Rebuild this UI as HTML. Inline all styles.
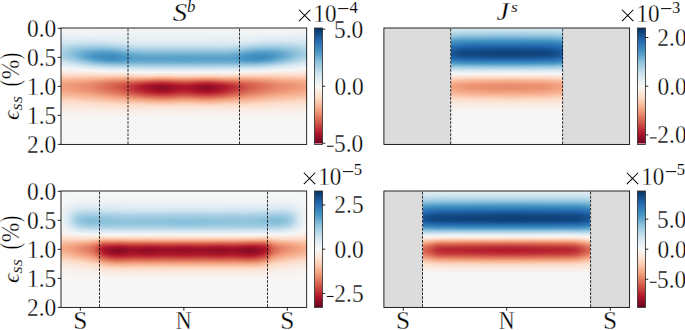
<!DOCTYPE html>
<html><head><meta charset="utf-8"><title>fig</title><style>
html,body{margin:0;padding:0;background:#fff}
body{width:685px;height:330px;position:relative;overflow:hidden}
.h,.g{position:absolute}
.h div{height:1px}
.g{background:#dcdcdc}
svg{position:absolute;left:0;top:0}
svg text{font-family:"Liberation Serif",serif;fill:#000;stroke:#fff;stroke-width:0.3px}
</style></head><body>
<div class="h" style="left:61px;top:28px;width:246px"><div style="background:linear-gradient(90deg,#f2f5f6 0.5px,#f2f5f6 245.5px)"></div><div style="background:linear-gradient(90deg,#f2f5f6 0.5px,#f2f5f6 245.5px)"></div><div style="background:linear-gradient(90deg,#f0f4f6 0.5px,#f2f5f6 218.5px,#f0f4f6 245.5px)"></div><div style="background:linear-gradient(90deg,#f0f4f6 0.5px,#f2f5f6 199.5px,#f0f4f6 245.5px)"></div><div style="background:linear-gradient(90deg,#eff3f5 0.5px,#f2f5f6 186.5px,#eff3f5 245.5px)"></div><div style="background:linear-gradient(90deg,#edf2f5 0.5px,#f0f4f6 70.5px,#f0f4f6 190.5px,#edf2f5 245.5px)"></div><div style="background:linear-gradient(90deg,#ecf2f5 0.5px,#ecf2f5 40.5px,#f0f4f6 106.5px,#eff3f5 191.5px,#eaf1f5 238.5px,#ecf2f5 245.5px)"></div><div style="background:linear-gradient(90deg,#e9f0f4 0.5px,#edf2f5 64.5px,#edf2f5 189.5px,#e9f0f4 244.5px,#eaf1f5 245.5px)"></div><div style="background:linear-gradient(90deg,#e7f0f4 0.5px,#e9f0f4 49.5px,#edf2f5 94.5px,#ecf2f5 186.5px,#e6eff4 229.5px,#e7f0f4 245.5px)"></div><div style="background:linear-gradient(90deg,#e4eef4 0.5px,#e6eff4 48.5px,#ecf2f5 84.5px,#eaf1f5 183.5px,#e3edf3 225.5px,#e4eef4 245.5px)"></div><div style="background:linear-gradient(90deg,#e3edf3 0.5px,#e1edf3 36.5px,#eaf1f5 85.5px,#e9f0f4 178.5px,#e0ecf3 217.5px,#e3edf3 245.5px)"></div><div style="background:linear-gradient(90deg,#e0ecf3 0.5px,#dbeaf2 26.5px,#e7f0f4 82.5px,#e6eff4 178.5px,#ddebf2 210.5px,#ddebf2 237.5px,#e0ecf3 245.5px)"></div><div style="background:linear-gradient(90deg,#dbeaf2 0.5px,#d8e9f1 39.5px,#e4eef4 78.5px,#e3edf3 177.5px,#d8e9f1 211.5px,#dbeaf2 244.5px,#ddebf2 245.5px)"></div><div style="background:linear-gradient(90deg,#d8e9f1 0.5px,#d2e6f0 32.5px,#deebf2 68.5px,#e1edf3 110.5px,#e0ecf3 175.5px,#d4e6f1 207.5px,#d4e6f1 232.5px,#d8e9f1 245.5px)"></div><div style="background:linear-gradient(90deg,#d5e7f1 0.5px,#cce2ef 23.5px,#cce2ef 40.5px,#dbeaf2 70.5px,#ddebf2 122.5px,#ddebf2 171.5px,#cce2ef 209.5px,#cce2ef 227.5px,#d5e7f1 245.5px)"></div><div style="background:linear-gradient(90deg,#d1e5f0 0.5px,#c5dfec 18.5px,#c2ddec 36.5px,#cae1ee 52.5px,#d2e6f0 61.5px,#dae9f2 86.5px,#d8e9f1 171.5px,#cce2ef 191.5px,#c5dfec 202.5px,#c2ddec 214.5px,#c2ddec 223.5px,#d2e6f0 245.5px)"></div><div style="background:linear-gradient(90deg,#cce2ef 0.5px,#bbdaea 19.5px,#b8d8e9 37.5px,#bddbea 50.5px,#d1e5f0 69.5px,#d4e6f1 105.5px,#d4e6f1 169.5px,#cce2ef 181.5px,#bddbea 196.5px,#b8d8e9 208.5px,#b8d8e9 221.5px,#c2ddec 235.5px,#cce2ef 245.5px)"></div><div style="background:linear-gradient(90deg,#c5dfec 0.5px,#b3d6e8 17.5px,#acd2e5 33.5px,#aed3e6 45.5px,#c2ddec 64.5px,#cce2ef 74.5px,#cfe4ef 104.5px,#cfe4ef 165.5px,#c5dfec 179.5px,#b6d7e8 191.5px,#aed3e6 202.5px,#aed3e6 221.5px,#bddbea 237.5px,#c7e0ed 245.5px)"></div><div style="background:linear-gradient(90deg,#c0dceb 0.5px,#acd2e5 15.5px,#a2cde3 31.5px,#a2cde3 44.5px,#aed3e6 57.5px,#bbdaea 66.5px,#c2ddec 76.5px,#c5dfec 88.5px,#c5dfec 166.5px,#b6d7e8 182.5px,#a7d0e4 194.5px,#a2cde3 206.5px,#a2cde3 217.5px,#b3d6e8 235.5px,#c0dceb 244.5px,#c0dceb 245.5px)"></div><div style="background:linear-gradient(90deg,#bbdaea 0.5px,#a0cce2 18.5px,#96c7df 32.5px,#98c8e0 48.5px,#b8d8e9 73.5px,#bbdaea 103.5px,#bbdaea 166.5px,#b1d5e7 178.5px,#a5cee3 186.5px,#98c8e0 197.5px,#98c8e0 217.5px,#a2cde3 228.5px,#bbdaea 245.5px)"></div><div style="background:linear-gradient(90deg,#b6d7e8 0.5px,#96c7df 19.5px,#8ac0db 31.5px,#87beda 43.5px,#8dc2dc 50.5px,#a9d1e5 69.5px,#b1d5e7 85.5px,#b1d5e7 116.5px,#aed3e6 122.5px,#aed3e6 128.5px,#b1d5e7 134.5px,#b1d5e7 164.5px,#a7d0e4 177.5px,#8ac0db 197.5px,#87beda 211.5px,#9dcbe1 230.5px,#b6d7e8 245.5px)"></div><div style="background:linear-gradient(90deg,#b1d5e7 0.5px,#87beda 22.5px,#7bb6d6 34.5px,#78b4d5 42.5px,#81bad8 52.5px,#9dcbe1 68.5px,#a5cee3 78.5px,#a5cee3 169.5px,#93c6de 182.5px,#7eb8d7 194.5px,#78b4d5 207.5px,#81bad8 217.5px,#8dc2dc 225.5px,#b1d5e7 245.5px)"></div><div style="background:linear-gradient(90deg,#acd2e5 0.5px,#9bc9e0 9.5px,#81bad8 20.5px,#75b2d4 28.5px,#6bacd1 36.5px,#6bacd1 47.5px,#7bb6d6 57.5px,#93c6de 69.5px,#9bc9e0 80.5px,#9bc9e0 167.5px,#90c4dd 177.5px,#7bb6d6 187.5px,#6eaed2 195.5px,#6bacd1 209.5px,#78b4d5 218.5px,#8dc2dc 229.5px,#aed3e6 245.5px)"></div><div style="background:linear-gradient(90deg,#a9d1e5 0.5px,#96c7df 9.5px,#7bb6d6 19.5px,#71b0d3 24.5px,#62a7ce 34.5px,#5fa5cd 46.5px,#65a9cf 53.5px,#8ac0db 71.5px,#90c4dd 83.5px,#90c4dd 166.5px,#84bcd9 176.5px,#71b0d3 185.5px,#62a7ce 194.5px,#5fa5cd 206.5px,#65a9cf 213.5px,#71b0d3 220.5px,#93c6de 234.5px,#a7d0e4 243.5px,#acd2e5 245.5px)"></div><div style="background:linear-gradient(90deg,#a7d0e4 0.5px,#93c6de 9.5px,#75b2d4 19.5px,#5fa5cd 29.5px,#569fc9 37.5px,#529dc8 39.5px,#529dc8 48.5px,#569fc9 50.5px,#62a7ce 58.5px,#7eb8d7 71.5px,#84bcd9 81.5px,#84bcd9 167.5px,#78b4d5 176.5px,#5ca3cb 189.5px,#569fc9 195.5px,#529dc8 197.5px,#529dc8 206.5px,#569fc9 208.5px,#62a7ce 216.5px,#71b0d3 223.5px,#a0cce2 240.5px,#a9d1e5 245.5px)"></div><div style="background:linear-gradient(90deg,#a7d0e4 0.5px,#84bcd9 13.5px,#65a9cf 23.5px,#529dc8 32.5px,#4997c5 40.5px,#4997c5 50.5px,#5ca3cb 60.5px,#75b2d4 73.5px,#7bb6d6 88.5px,#7bb6d6 103.5px,#78b4d5 109.5px,#78b4d5 140.5px,#7bb6d6 146.5px,#7bb6d6 162.5px,#78b4d5 168.5px,#75b2d4 172.5px,#4f9bc7 190.5px,#4997c5 196.5px,#4997c5 206.5px,#529dc8 212.5px,#71b0d3 225.5px,#7eb8d7 229.5px,#7eb8d7 230.5px,#93c6de 236.5px,#a7d0e4 245.5px)"></div><div style="background:linear-gradient(90deg,#a7d0e4 0.5px,#8dc2dc 10.5px,#78b4d5 16.5px,#5ca3cb 25.5px,#4695c4 36.5px,#4291c2 49.5px,#4997c5 56.5px,#59a1ca 63.5px,#6bacd1 74.5px,#6eaed2 86.5px,#6eaed2 168.5px,#5fa5cd 178.5px,#4997c5 188.5px,#4291c2 196.5px,#4393c3 206.5px,#4f9bc7 213.5px,#71b0d3 226.5px,#8dc2dc 235.5px,#9bc9e0 239.5px,#a7d0e4 245.5px)"></div><div style="background:linear-gradient(90deg,#a7d0e4 0.5px,#9bc9e0 6.5px,#6bacd1 20.5px,#4f9bc7 29.5px,#4291c2 37.5px,#408fc1 53.5px,#4695c4 58.5px,#569fc9 65.5px,#65a9cf 75.5px,#68abd0 105.5px,#65a9cf 111.5px,#65a9cf 139.5px,#68abd0 145.5px,#68abd0 164.5px,#62a7ce 172.5px,#569fc9 179.5px,#4997c5 184.5px,#408fc1 191.5px,#4291c2 207.5px,#4997c5 212.5px,#6bacd1 224.5px,#87beda 233.5px,#96c7df 237.5px,#a5cee3 243.5px,#a9d1e5 245.5px)"></div><div style="background:linear-gradient(90deg,#acd2e5 0.5px,#93c6de 9.5px,#62a7ce 23.5px,#4997c5 31.5px,#408fc1 38.5px,#3e8cbf 52.5px,#4695c4 61.5px,#5ca3cb 71.5px,#62a7ce 86.5px,#62a7ce 103.5px,#5fa5cd 109.5px,#5fa5cd 140.5px,#62a7ce 146.5px,#62a7ce 164.5px,#59a1ca 175.5px,#4c99c6 180.5px,#3f8ec0 190.5px,#3f8ec0 204.5px,#4695c4 211.5px,#5ca3cb 219.5px,#78b4d5 228.5px,#96c7df 236.5px,#a9d1e5 243.5px,#acd2e5 245.5px)"></div><div style="background:linear-gradient(90deg,#aed3e6 0.5px,#a2cde3 6.5px,#87beda 14.5px,#75b2d4 19.5px,#6bacd1 21.5px,#4695c4 33.5px,#3e8cbf 44.5px,#3e8cbf 53.5px,#4695c4 62.5px,#59a1ca 73.5px,#5ca3cb 85.5px,#5ca3cb 115.5px,#59a1ca 121.5px,#59a1ca 129.5px,#5ca3cb 135.5px,#5ca3cb 169.5px,#4c99c6 179.5px,#4291c2 185.5px,#3c8abe 198.5px,#4393c3 209.5px,#59a1ca 217.5px,#6eaed2 224.5px,#78b4d5 226.5px,#a7d0e4 240.5px,#b1d5e7 245.5px)"></div><div style="background:linear-gradient(90deg,#b6d7e8 0.5px,#96c7df 12.5px,#78b4d5 20.5px,#5ca3cb 28.5px,#4997c5 34.5px,#408fc1 41.5px,#3e8cbf 52.5px,#4695c4 62.5px,#569fc9 71.5px,#5ca3cb 84.5px,#5ca3cb 101.5px,#59a1ca 107.5px,#59a1ca 142.5px,#5ca3cb 148.5px,#5ca3cb 165.5px,#569fc9 174.5px,#4997c5 180.5px,#408fc1 187.5px,#3e8cbf 198.5px,#4695c4 208.5px,#5ca3cb 216.5px,#71b0d3 222.5px,#a7d0e4 238.5px,#b6d7e8 245.5px)"></div><div style="background:linear-gradient(90deg,#bddbea 0.5px,#9bc9e0 13.5px,#71b0d3 25.5px,#5ca3cb 31.5px,#4997c5 38.5px,#408fc1 48.5px,#4695c4 61.5px,#529dc8 67.5px,#59a1ca 74.5px,#5ca3cb 86.5px,#5ca3cb 105.5px,#59a1ca 111.5px,#59a1ca 138.5px,#5ca3cb 144.5px,#5ca3cb 168.5px,#569fc9 175.5px,#4393c3 186.5px,#408fc1 197.5px,#4695c4 204.5px,#59a1ca 212.5px,#6eaed2 219.5px,#78b4d5 221.5px,#a0cce2 233.5px,#bddbea 244.5px,#bddbea 245.5px)"></div><div style="background:linear-gradient(90deg,#c5dfec 0.5px,#b3d6e8 8.5px,#96c7df 18.5px,#81bad8 24.5px,#5fa5cd 34.5px,#4c99c6 44.5px,#4695c4 52.5px,#4c99c6 59.5px,#5ca3cb 70.5px,#5fa5cd 82.5px,#5fa5cd 111.5px,#5ca3cb 117.5px,#5ca3cb 132.5px,#5fa5cd 138.5px,#5fa5cd 172.5px,#4f9bc7 183.5px,#4997c5 189.5px,#4695c4 195.5px,#4f9bc7 202.5px,#68abd0 213.5px,#9bc9e0 228.5px,#bddbea 240.5px,#c5dfec 245.5px)"></div><div style="background:linear-gradient(90deg,#cce2ef 0.5px,#bddbea 8.5px,#90c4dd 24.5px,#7bb6d6 30.5px,#6eaed2 34.5px,#59a1ca 45.5px,#569fc9 57.5px,#65a9cf 71.5px,#68abd0 83.5px,#68abd0 100.5px,#65a9cf 106.5px,#65a9cf 143.5px,#68abd0 149.5px,#68abd0 171.5px,#569fc9 189.5px,#569fc9 196.5px,#62a7ce 204.5px,#75b2d4 212.5px,#8ac0db 219.5px,#98c8e0 223.5px,#cce2ef 243.5px,#cfe4ef 245.5px)"></div><div style="background:linear-gradient(90deg,#d4e6f1 0.5px,#cae1ee 7.5px,#87beda 32.5px,#71b0d3 41.5px,#65a9cf 52.5px,#6bacd1 64.5px,#71b0d3 70.5px,#71b0d3 73.5px,#75b2d4 75.5px,#75b2d4 78.5px,#71b0d3 80.5px,#71b0d3 112.5px,#6eaed2 118.5px,#6eaed2 131.5px,#71b0d3 137.5px,#71b0d3 165.5px,#75b2d4 167.5px,#75b2d4 170.5px,#71b0d3 172.5px,#6eaed2 179.5px,#68abd0 185.5px,#65a9cf 194.5px,#78b4d5 206.5px,#a2cde3 222.5px,#d2e6f0 242.5px,#d4e6f1 245.5px)"></div><div style="background:linear-gradient(90deg,#dae9f2 0.5px,#cce2ef 10.5px,#87beda 40.5px,#7bb6d6 50.5px,#78b4d5 56.5px,#81bad8 72.5px,#81bad8 102.5px,#7eb8d7 108.5px,#7eb8d7 142.5px,#81bad8 148.5px,#81bad8 176.5px,#7bb6d6 186.5px,#78b4d5 192.5px,#87beda 204.5px,#d4e6f1 238.5px,#dae9f2 245.5px)"></div><div style="background:linear-gradient(90deg,#e0ecf3 0.5px,#cce2ef 16.5px,#a2cde3 35.5px,#90c4dd 50.5px,#8dc2dc 60.5px,#90c4dd 66.5px,#93c6de 76.5px,#90c4dd 82.5px,#90c4dd 108.5px,#8dc2dc 114.5px,#8dc2dc 136.5px,#90c4dd 142.5px,#90c4dd 167.5px,#93c6de 173.5px,#8dc2dc 191.5px,#93c6de 198.5px,#a7d0e4 211.5px,#d4e6f1 233.5px,#e0ecf3 245.5px)"></div><div style="background:linear-gradient(90deg,#e4eef4 0.5px,#dae9f2 12.5px,#cce2ef 22.5px,#acd2e5 40.5px,#a2cde3 52.5px,#a0cce2 104.5px,#9dcbe1 110.5px,#9dcbe1 140.5px,#a0cce2 146.5px,#a2cde3 195.5px,#b3d6e8 209.5px,#d2e6f0 225.5px,#e4eef4 243.5px,#e6eff4 245.5px)"></div><div style="background:linear-gradient(90deg,#eaf1f5 0.5px,#dae9f2 19.5px,#cae1ee 32.5px,#b6d7e8 48.5px,#b1d5e7 76.5px,#aed3e6 82.5px,#aed3e6 167.5px,#b1d5e7 173.5px,#b3d6e8 192.5px,#bddbea 203.5px,#d5e7f1 220.5px,#eaf1f5 244.5px,#eaf1f5 245.5px)"></div><div style="background:linear-gradient(90deg,#f0f4f6 0.5px,#ddebf2 25.5px,#c7e0ed 53.5px,#c5dfec 66.5px,#c2ddec 72.5px,#bddbea 92.5px,#bddbea 162.5px,#c0dceb 168.5px,#c7e0ed 194.5px,#edf2f5 239.5px,#f0f4f6 245.5px)"></div><div style="background:linear-gradient(90deg,#f5f6f7 0.5px,#e9f0f4 21.5px,#dae9f2 43.5px,#cfe4ef 87.5px,#cfe4ef 113.5px,#cce2ef 119.5px,#cce2ef 130.5px,#cfe4ef 136.5px,#d1e5f0 172.5px,#dbeaf2 205.5px,#f5f6f7 243.5px,#f6f7f7 245.5px)"></div><div style="background:linear-gradient(90deg,#f8f4f2 0.5px,#f3f5f6 16.5px,#e3edf3 49.5px,#dae9f2 85.5px,#dae9f2 169.5px,#eaf1f5 214.5px,#f7f6f6 236.5px,#f8f4f2 245.5px)"></div><div style="background:linear-gradient(90deg,#f9f0eb 0.5px,#f5f6f7 29.5px,#ecf2f5 58.5px,#e3edf3 84.5px,#e4eef4 170.5px,#edf2f5 194.5px,#f7f6f6 223.5px,#f8f1ed 241.5px,#f9f0eb 245.5px)"></div><div style="background:linear-gradient(90deg,#f9ede5 0.5px,#f9f0eb 21.5px,#f7f6f6 52.5px,#edf2f5 85.5px,#eff3f5 171.5px,#f7f6f6 191.5px,#f8f1ed 222.5px,#f9ede5 243.5px,#f9ede5 245.5px)"></div><div style="background:linear-gradient(90deg,#fae8de 0.5px,#f9ebe3 27.5px,#f9efe9 55.5px,#f7f6f6 81.5px,#f7f5f4 171.5px,#f9efe9 191.5px,#f9ebe3 222.5px,#fae8de 245.5px)"></div><div style="background:linear-gradient(90deg,#fbe4d6 0.5px,#fae7dc 54.5px,#f9ebe3 69.5px,#f9efe9 81.5px,#f9ede5 104.5px,#f9efe9 130.5px,#f9ede5 149.5px,#f9efe9 168.5px,#fae8de 185.5px,#fbe4d6 245.5px)"></div><div style="background:linear-gradient(90deg,#fcdfcf 0.5px,#fce0d0 61.5px,#fae7dc 80.5px,#fbe4d6 102.5px,#fae7dc 126.5px,#fbe4d6 148.5px,#fae7dc 166.5px,#fcdfcf 187.5px,#fcdfcf 245.5px)"></div><div style="background:linear-gradient(90deg,#fddbc7 0.5px,#fddbc7 30.5px,#fdd9c4 36.5px,#fcd7c2 52.5px,#fcd5bf 56.5px,#fcdecd 77.5px,#fddbc7 105.5px,#fcdecd 126.5px,#fddbc7 150.5px,#fcdecd 170.5px,#fcd7c2 185.5px,#fcd5bf 191.5px,#fcd7c2 197.5px,#fdd9c4 213.5px,#fddbc7 219.5px,#fddbc7 245.5px)"></div><div style="background:linear-gradient(90deg,#fcd3bc 0.5px,#fcd3bc 11.5px,#fbd0b9 16.5px,#fbceb7 35.5px,#fac8af 51.5px,#facab1 65.5px,#fbd0b9 74.5px,#fbceb7 86.5px,#fac8af 99.5px,#facab1 109.5px,#fbd0b9 122.5px,#fbccb4 135.5px,#fac8af 145.5px,#fbccb4 157.5px,#fbd0b9 167.5px,#fbccb4 177.5px,#fac8af 185.5px,#facab1 202.5px,#fbceb7 214.5px,#fbd0b9 233.5px,#fcd3bc 239.5px,#fcd3bc 245.5px)"></div><div style="background:linear-gradient(90deg,#facab1 0.5px,#fac8af 18.5px,#f9c6ac 24.5px,#f8bfa4 42.5px,#f8bb9e 50.5px,#f8bb9e 66.5px,#f8bfa4 74.5px,#f8bda1 84.5px,#f7b596 99.5px,#f7b596 105.5px,#f8bb9e 116.5px,#f8bda1 127.5px,#f7b596 145.5px,#f7b799 153.5px,#f8bfa4 168.5px,#f8bda1 176.5px,#f7b99c 186.5px,#f8bb9e 197.5px,#f8bfa4 205.5px,#f9c6ac 221.5px,#facab1 244.5px,#fbccb4 245.5px)"></div><div style="background:linear-gradient(90deg,#f9c4a9 0.5px,#f8bda1 22.5px,#f8bb9e 27.5px,#f5ac8b 55.5px,#f5ac8b 69.5px,#f6af8e 75.5px,#f5a886 87.5px,#f19e7d 101.5px,#f5a886 117.5px,#f5aa89 123.5px,#f5a886 130.5px,#f19e7d 146.5px,#f5a886 160.5px,#f6af8e 171.5px,#f5aa89 187.5px,#f8bb9e 218.5px,#f8bfa4 235.5px,#f9c2a7 241.5px,#f9c4a9 245.5px)"></div><div style="background:linear-gradient(90deg,#f8bb9e 0.5px,#f6b191 30.5px,#f2a17f 50.5px,#f09c7b 64.5px,#f09c7b 74.5px,#e6866a 97.5px,#e6866a 106.5px,#ec9374 121.5px,#eb9172 129.5px,#e8896c 138.5px,#e6866a 150.5px,#ef9979 168.5px,#f09c7b 186.5px,#f2a17f 195.5px,#f6b191 217.5px,#f8bb9e 244.5px,#f8bb9e 245.5px)"></div><div style="background:linear-gradient(90deg,#f7b596 0.5px,#f6b191 11.5px,#f5aa89 24.5px,#f3a481 34.5px,#eb9172 52.5px,#e8896c 65.5px,#e58368 77.5px,#df765e 87.5px,#db6b55 98.5px,#db6b55 104.5px,#e27b62 121.5px,#e17860 129.5px,#dc6e57 139.5px,#db6b55 149.5px,#e48066 166.5px,#e6866a 174.5px,#ea8e70 190.5px,#f5a886 216.5px,#f7b596 245.5px)"></div><div style="background:linear-gradient(90deg,#f6af8e 0.5px,#f2a17f 26.5px,#e37e64 57.5px,#dd7059 74.5px,#d05548 93.5px,#ce4f45 101.5px,#d05548 108.5px,#d7634f 120.5px,#d7634f 127.5px,#d35a4a 133.5px,#ce4f45 145.5px,#d05548 152.5px,#dc6e57 169.5px,#e17860 181.5px,#e6866a 195.5px,#f19e7d 215.5px,#f5a886 233.5px,#f6af8e 245.5px)"></div><div style="background:linear-gradient(90deg,#f5a886 0.5px,#f2a17f 15.5px,#ec9374 31.5px,#db6b55 63.5px,#cf5246 80.5px,#c2383a 97.5px,#c2383a 105.5px,#c6413e 111.5px,#cb4942 117.5px,#cc4c44 126.5px,#c2383a 142.5px,#c2383a 149.5px,#cf5246 164.5px,#d86551 177.5px,#ef9979 219.5px,#f5a886 243.5px,#f5aa89 245.5px)"></div><div style="background:linear-gradient(90deg,#f4a683 0.5px,#ee9677 21.5px,#e6866a 36.5px,#dc6e57 52.5px,#d55d4c 64.5px,#ce4f45 72.5px,#c13639 84.5px,#b82531 95.5px,#b72230 104.5px,#bd2d35 112.5px,#c2383a 120.5px,#c13639 128.5px,#b72230 142.5px,#b72230 149.5px,#c53e3d 164.5px,#d25849 177.5px,#e17860 199.5px,#ea8e70 215.5px,#f19e7d 235.5px,#f4a683 245.5px)"></div><div style="background:linear-gradient(90deg,#f2a17f 0.5px,#ee9677 16.5px,#e6866a 32.5px,#d6604d 57.5px,#cc4c44 67.5px,#b82531 84.5px,#ae172a 94.5px,#a81529 100.5px,#ae172a 107.5px,#b41c2d 113.5px,#ba2832 119.5px,#ba2832 125.5px,#b1182b 136.5px,#a81529 145.5px,#ae172a 152.5px,#b41c2d 156.5px,#bf3338 166.5px,#d55d4c 185.5px,#dd7059 198.5px,#e8896c 215.5px,#ec9374 227.5px,#f19e7d 240.5px,#f2a17f 245.5px)"></div><div style="background:linear-gradient(90deg,#f2a17f 0.5px,#e58368 32.5px,#de735c 42.5px,#d6604d 54.5px,#cc4c44 64.5px,#b41c2d 82.5px,#ae172a 87.5px,#9f1228 94.5px,#991027 102.5px,#a81529 112.5px,#b3192c 118.5px,#b41c2d 124.5px,#b1182b 128.5px,#9f1228 139.5px,#991027 147.5px,#a51429 154.5px,#b3192c 161.5px,#cc4c44 180.5px,#d55d4c 188.5px,#db6b55 197.5px,#e6866a 215.5px,#f09c7b 239.5px,#f2a17f 245.5px)"></div><div style="background:linear-gradient(90deg,#f19e7d 0.5px,#ef9979 10.5px,#e8896c 26.5px,#e27b62 36.5px,#da6853 48.5px,#cf5246 60.5px,#be3036 73.5px,#b72230 77.5px,#b3192c 81.5px,#9c1127 91.5px,#900d26 99.5px,#930e26 105.5px,#ae172a 121.5px,#ab162a 127.5px,#960f27 139.5px,#900d26 145.5px,#960f27 151.5px,#b3192c 164.5px,#d05548 185.5px,#d86551 194.5px,#e27b62 208.5px,#e8896c 218.5px,#f19e7d 243.5px,#f2a17f 245.5px)"></div><div style="background:linear-gradient(90deg,#f2a17f 0.5px,#ec9374 16.5px,#e58368 32.5px,#d6604d 53.5px,#cf5246 60.5px,#c53e3d 68.5px,#be3036 72.5px,#b72230 77.5px,#b3192c 79.5px,#a81529 84.5px,#930e26 94.5px,#8d0c25 100.5px,#930e26 107.5px,#ab162a 120.5px,#a81529 127.5px,#900d26 140.5px,#8d0c25 147.5px,#991027 154.5px,#b3192c 165.5px,#d25849 186.5px,#df765e 204.5px,#e6866a 215.5px,#f2a17f 245.5px)"></div><div style="background:linear-gradient(90deg,#f2a17f 0.5px,#ef9979 13.5px,#e6866a 31.5px,#de735c 43.5px,#d35a4a 57.5px,#ce4f45 62.5px,#bf3338 72.5px,#b82531 76.5px,#b1182b 81.5px,#960f27 93.5px,#900d26 99.5px,#930e26 106.5px,#ab162a 119.5px,#ab162a 126.5px,#930e26 139.5px,#900d26 149.5px,#ae172a 162.5px,#b72230 167.5px,#d05548 184.5px,#dd7059 199.5px,#e98b6e 218.5px,#f2a17f 243.5px,#f3a481 245.5px)"></div><div style="background:linear-gradient(90deg,#f3a481 0.5px,#ef9979 16.5px,#e58368 35.5px,#de735c 45.5px,#d25849 60.5px,#be3036 74.5px,#b72230 78.5px,#b3192c 82.5px,#991027 94.5px,#930e26 100.5px,#991027 107.5px,#ae172a 119.5px,#b1182b 124.5px,#960f27 141.5px,#930e26 147.5px,#9f1228 154.5px,#b3192c 163.5px,#be3036 171.5px,#c53e3d 175.5px,#d35a4a 185.5px,#dd7059 197.5px,#ea8e70 218.5px,#f3a481 243.5px,#f4a683 245.5px)"></div><div style="background:linear-gradient(90deg,#f5a886 0.5px,#f2a17f 11.5px,#ea8e70 30.5px,#d7634f 57.5px,#be3036 76.5px,#ba2832 78.5px,#b3192c 85.5px,#9c1127 97.5px,#9c1127 104.5px,#b3192c 118.5px,#b41c2d 125.5px,#ab162a 132.5px,#9f1228 140.5px,#9c1127 149.5px,#b41c2d 161.5px,#bf3338 170.5px,#d55d4c 184.5px,#e6866a 208.5px,#ef9979 225.5px,#f5a886 245.5px)"></div><div style="background:linear-gradient(90deg,#f5aa89 0.5px,#f5a886 6.5px,#ee9677 28.5px,#e6866a 39.5px,#db6b55 56.5px,#ce4f45 68.5px,#be3036 78.5px,#b1182b 90.5px,#a81529 96.5px,#a51429 103.5px,#b41c2d 114.5px,#b82531 120.5px,#b72230 128.5px,#b3192c 133.5px,#a51429 144.5px,#a81529 150.5px,#b41c2d 157.5px,#bf3338 167.5px,#cb4942 175.5px,#d05548 178.5px,#de735c 192.5px,#e6866a 205.5px,#ef9979 220.5px,#f5a886 240.5px,#f5aa89 245.5px)"></div><div style="background:linear-gradient(90deg,#f6af8e 0.5px,#f2a17f 22.5px,#ee9677 32.5px,#dd7059 57.5px,#d25849 68.5px,#c13639 80.5px,#b3192c 96.5px,#b3192c 105.5px,#bd2d35 118.5px,#be3036 125.5px,#b41c2d 139.5px,#b3192c 149.5px,#be3036 161.5px,#cf5246 174.5px,#de735c 188.5px,#ec9374 210.5px,#f19e7d 220.5px,#f5a886 234.5px,#f6af8e 245.5px)"></div><div style="background:linear-gradient(90deg,#f6b394 0.5px,#f6b191 6.5px,#f2a17f 29.5px,#ee9677 37.5px,#de735c 60.5px,#d05548 73.5px,#cb4942 78.5px,#c2383a 86.5px,#ba2832 97.5px,#b82531 102.5px,#c53e3d 122.5px,#bf3338 133.5px,#ba2832 141.5px,#b82531 147.5px,#bd2d35 153.5px,#c6413e 163.5px,#da6853 179.5px,#e27b62 188.5px,#f2a17f 216.5px,#f6af8e 237.5px,#f6b394 245.5px)"></div><div style="background:linear-gradient(90deg,#f7b799 0.5px,#f6b394 11.5px,#f5aa89 24.5px,#f2a17f 35.5px,#e58368 56.5px,#de735c 65.5px,#d05548 78.5px,#c2383a 95.5px,#c2383a 106.5px,#cb4942 119.5px,#cc4c44 124.5px,#c13639 142.5px,#c2383a 151.5px,#cb4942 160.5px,#da6853 174.5px,#e98b6e 193.5px,#f4a683 214.5px,#f7b596 238.5px,#f7b799 245.5px)"></div><div style="background:linear-gradient(90deg,#f8bda1 0.5px,#f6b191 24.5px,#f2a17f 42.5px,#e58368 62.5px,#de735c 71.5px,#d6604d 80.5px,#cb4942 95.5px,#cb4942 107.5px,#d25849 117.5px,#d25849 128.5px,#cb4942 140.5px,#cb4942 151.5px,#da6853 168.5px,#ea8e70 188.5px,#f4a683 207.5px,#f6af8e 218.5px,#f7b596 229.5px,#f8bb9e 242.5px,#f8bda1 245.5px)"></div><div style="background:linear-gradient(90deg,#f9c2a7 0.5px,#f8bda1 12.5px,#f6b191 33.5px,#f5aa89 39.5px,#f2a17f 49.5px,#e58368 69.5px,#de735c 78.5px,#d7634f 89.5px,#d25849 99.5px,#d55d4c 109.5px,#d86551 115.5px,#db6b55 121.5px,#da6853 128.5px,#d35a4a 141.5px,#d35a4a 150.5px,#dd7059 165.5px,#e58368 175.5px,#f19e7d 193.5px,#f5a886 203.5px,#f7b596 218.5px,#f8bb9e 231.5px,#f9c2a7 244.5px,#f9c2a7 245.5px)"></div><div style="background:linear-gradient(90deg,#fac8af 0.5px,#f7b799 33.5px,#f5a886 51.5px,#eb9172 69.5px,#df765e 87.5px,#db6b55 98.5px,#db6b55 104.5px,#e27b62 121.5px,#e17860 129.5px,#dc6e57 139.5px,#db6b55 149.5px,#e48066 165.5px,#f19e7d 185.5px,#f6b191 204.5px,#f7b99c 215.5px,#f9c4a9 236.5px,#fac8af 245.5px)"></div><div style="background:linear-gradient(90deg,#fbccb4 0.5px,#f9c6ac 19.5px,#f8bfa4 31.5px,#f6b394 47.5px,#f2a17f 67.5px,#ea8e70 81.5px,#e37e64 96.5px,#e27b62 102.5px,#e98b6e 121.5px,#e8896c 129.5px,#e37e64 140.5px,#e27b62 147.5px,#ee9677 170.5px,#f19e7d 176.5px,#f5a886 186.5px,#f7b596 199.5px,#f9c2a7 218.5px,#fbccb4 245.5px)"></div><div style="background:linear-gradient(90deg,#fcd3bc 0.5px,#f9c6ac 32.5px,#f7b799 52.5px,#f5aa89 68.5px,#f2a17f 79.5px,#eb9172 94.5px,#ea8e70 104.5px,#f09c7b 122.5px,#ef9979 129.5px,#ea8e70 144.5px,#eb9172 152.5px,#f5a886 172.5px,#f6b394 188.5px,#f8bb9e 198.5px,#fac8af 218.5px,#fbd0b9 241.5px,#fcd3bc 245.5px)"></div><div style="background:linear-gradient(90deg,#fcd7c2 0.5px,#fcd7c2 6.5px,#fcd5bf 11.5px,#fbccb4 32.5px,#f9c2a7 48.5px,#f7b596 68.5px,#f6af8e 78.5px,#f4a683 89.5px,#f19e7d 102.5px,#f5aa89 122.5px,#f5a886 129.5px,#f19e7d 147.5px,#f4a683 157.5px,#f6b394 174.5px,#f8bfa4 194.5px,#facab1 210.5px,#fbd0b9 223.5px,#fcd7c2 243.5px,#fcd7c2 245.5px)"></div><div style="background:linear-gradient(90deg,#fddcc9 0.5px,#fddbc7 10.5px,#fcd7c2 20.5px,#fbceb7 40.5px,#f9c2a7 60.5px,#f7b99c 79.5px,#f7b596 85.5px,#f5ac8b 101.5px,#f6b191 111.5px,#f7b596 121.5px,#f6b394 133.5px,#f6af8e 141.5px,#f5ac8b 146.5px,#f8bb9e 170.5px,#f9c4a9 189.5px,#fac8af 195.5px,#fcd3bc 214.5px,#fcd7c2 226.5px,#fddcc9 245.5px)"></div><div style="background:linear-gradient(90deg,#fcdecd 0.5px,#fddbc7 28.5px,#facab1 61.5px,#fac8af 71.5px,#f8bfa4 87.5px,#f8bb9e 95.5px,#f8bb9e 109.5px,#f8bfa4 117.5px,#f9c2a7 125.5px,#f8bb9e 139.5px,#f8bb9e 153.5px,#f9c4a9 166.5px,#fac8af 181.5px,#fdd9c4 214.5px,#fcdecd 245.5px)"></div><div style="background:linear-gradient(90deg,#fce2d2 0.5px,#fddcc9 37.5px,#fbd0b9 65.5px,#fbceb7 79.5px,#facab1 87.5px,#f9c6ac 99.5px,#f9c6ac 108.5px,#fbccb4 124.5px,#f9c6ac 144.5px,#f9c6ac 152.5px,#fbceb7 168.5px,#fbd0b9 184.5px,#fcd5bf 192.5px,#fddcc9 210.5px,#fce0d0 242.5px,#fce2d2 245.5px)"></div><div style="background:linear-gradient(90deg,#fbe4d6 0.5px,#fdddcb 46.5px,#fdd9c4 63.5px,#fcd7c2 81.5px,#fcd3bc 91.5px,#fbd0b9 102.5px,#fbd0b9 108.5px,#fcd3bc 114.5px,#fcd5bf 126.5px,#fcd3bc 136.5px,#fbd0b9 141.5px,#fbd0b9 152.5px,#fcd7c2 166.5px,#fdd9c4 187.5px,#fdddcb 201.5px,#fbe4d6 245.5px)"></div><div style="background:linear-gradient(90deg,#fbe6da 0.5px,#fcdecd 57.5px,#fdddcb 82.5px,#fdd9c4 103.5px,#fddcc9 125.5px,#fddbc7 139.5px,#fdd9c4 145.5px,#fdddcb 171.5px,#fcdecd 192.5px,#fbe5d8 237.5px,#fbe6da 245.5px)"></div><div style="background:linear-gradient(90deg,#fae8de 0.5px,#fbe3d4 50.5px,#fce0d0 66.5px,#fce0d0 87.5px,#fcdecd 105.5px,#fcdfcf 139.5px,#fcdfcf 157.5px,#fce2d2 176.5px,#fce2d2 193.5px,#fbe6da 226.5px,#fae8de 245.5px)"></div><div style="background:linear-gradient(90deg,#fae9df 0.5px,#fae7dc 37.5px,#fbe4d6 67.5px,#fbe4d6 91.5px,#fbe4d6 162.5px,#fbe5d8 197.5px,#fae9df 235.5px,#fae9df 245.5px)"></div><div style="background:linear-gradient(90deg,#f9ebe3 0.5px,#fae7dc 64.5px,#fae7dc 91.5px,#fae7dc 163.5px,#fae7dc 182.5px,#f9ebe3 245.5px)"></div><div style="background:linear-gradient(90deg,#f9ede5 0.5px,#faeae1 47.5px,#faeae1 207.5px,#f9ede5 245.5px)"></div><div style="background:linear-gradient(90deg,#f9efe9 0.5px,#f9ebe3 68.5px,#f9ede5 213.5px,#f9efe9 245.5px)"></div><div style="background:linear-gradient(90deg,#f9f0eb 0.5px,#f9ede5 61.5px,#f9efe9 87.5px,#f9eee7 181.5px,#f9eee7 206.5px,#f9f0eb 245.5px)"></div><div style="background:linear-gradient(90deg,#f8f1ed 0.5px,#f9efe9 66.5px,#f9f0eb 227.5px,#f8f1ed 245.5px)"></div><div style="background:linear-gradient(90deg,#f8f2ef 0.5px,#f9f0eb 63.5px,#f8f2ef 86.5px,#f8f1ed 179.5px,#f8f1ed 229.5px,#f8f2ef 245.5px)"></div><div style="background:linear-gradient(90deg,#f8f3f0 0.5px,#f8f2ef 72.5px,#f8f2ef 181.5px,#f8f3f0 245.5px)"></div><div style="background:linear-gradient(90deg,#f8f3f0 0.5px,#f8f3f0 75.5px,#f8f3f0 180.5px,#f8f3f0 245.5px)"></div><div style="background:linear-gradient(90deg,#f8f4f2 0.5px,#f8f4f2 245.5px)"></div><div style="background:linear-gradient(90deg,#f8f4f2 0.5px,#f8f4f2 245.5px)"></div><div style="background:linear-gradient(90deg,#f7f5f4 0.5px,#f7f5f4 245.5px)"></div><div style="background:linear-gradient(90deg,#f7f5f4 0.5px,#f7f5f4 245.5px)"></div><div style="background:linear-gradient(90deg,#f7f5f4 0.5px,#f7f5f4 245.5px)"></div><div style="background:linear-gradient(90deg,#f7f6f6 0.5px,#f7f6f6 245.5px)"></div><div style="background:linear-gradient(90deg,#f7f6f6 0.5px,#f7f6f6 245.5px)"></div><div style="background:linear-gradient(90deg,#f7f6f6 0.5px,#f7f6f6 245.5px)"></div><div style="background:linear-gradient(90deg,#f7f6f6 0.5px,#f7f6f6 245.5px)"></div><div style="background:linear-gradient(90deg,#f7f6f6 0.5px,#f7f6f6 245.5px)"></div><div style="background:linear-gradient(90deg,#f7f6f6 0.5px,#f7f6f6 245.5px)"></div><div style="background:linear-gradient(90deg,#f7f6f6 0.5px,#f7f6f6 245.5px)"></div><div style="background:linear-gradient(90deg,#f7f6f6 0.5px,#f7f6f6 245.5px)"></div><div style="background:linear-gradient(90deg,#f7f6f6 0.5px,#f7f6f6 245.5px)"></div><div style="background:linear-gradient(90deg,#f7f6f6 0.5px,#f7f6f6 245.5px)"></div><div style="background:linear-gradient(90deg,#f7f6f6 0.5px,#f7f6f6 245.5px)"></div><div style="background:linear-gradient(90deg,#f7f6f6 0.5px,#f7f6f6 245.5px)"></div><div style="background:linear-gradient(90deg,#f7f6f6 0.5px,#f7f6f6 245.5px)"></div><div style="background:linear-gradient(90deg,#f7f6f6 0.5px,#f7f6f6 245.5px)"></div><div style="background:linear-gradient(90deg,#f7f6f6 0.5px,#f7f6f6 245.5px)"></div><div style="background:linear-gradient(90deg,#f7f6f6 0.5px,#f7f6f6 245.5px)"></div><div style="background:linear-gradient(90deg,#f7f6f6 0.5px,#f7f6f6 245.5px)"></div><div style="background:linear-gradient(90deg,#f7f6f6 0.5px,#f7f6f6 245.5px)"></div><div style="background:linear-gradient(90deg,#f7f6f6 0.5px,#f7f6f6 245.5px)"></div><div style="background:linear-gradient(90deg,#f7f6f6 0.5px,#f7f6f6 245.5px)"></div><div style="background:linear-gradient(90deg,#f7f6f6 0.5px,#f7f6f6 245.5px)"></div><div style="background:linear-gradient(90deg,#f7f6f6 0.5px,#f7f6f6 245.5px)"></div><div style="background:linear-gradient(90deg,#f7f6f6 0.5px,#f7f6f6 245.5px)"></div><div style="background:linear-gradient(90deg,#f7f6f6 0.5px,#f7f6f6 245.5px)"></div></div>
<div class="h" style="left:61px;top:191px;width:246px"><div style="background:linear-gradient(90deg,#f6f7f7 0.5px,#f6f7f7 245.5px)"></div><div style="background:linear-gradient(90deg,#f6f7f7 0.5px,#f6f7f7 245.5px)"></div><div style="background:linear-gradient(90deg,#f6f7f7 0.5px,#f6f7f7 245.5px)"></div><div style="background:linear-gradient(90deg,#f6f7f7 0.5px,#f6f7f7 245.5px)"></div><div style="background:linear-gradient(90deg,#f6f7f7 0.5px,#f6f7f7 245.5px)"></div><div style="background:linear-gradient(90deg,#f6f7f7 0.5px,#f5f6f7 32.5px,#f5f6f7 238.5px,#f6f7f7 245.5px)"></div><div style="background:linear-gradient(90deg,#f6f7f7 0.5px,#f3f5f6 51.5px,#f5f6f7 239.5px,#f6f7f7 245.5px)"></div><div style="background:linear-gradient(90deg,#f6f7f7 0.5px,#f2f5f6 34.5px,#f3f5f6 236.5px,#f6f7f7 245.5px)"></div><div style="background:linear-gradient(90deg,#f6f7f7 0.5px,#f0f4f6 24.5px,#f2f5f6 234.5px,#f6f7f7 245.5px)"></div><div style="background:linear-gradient(90deg,#f6f7f7 0.5px,#eff3f5 20.5px,#f0f4f6 233.5px,#f6f7f7 245.5px)"></div><div style="background:linear-gradient(90deg,#f6f7f7 0.5px,#edf2f5 19.5px,#eff3f5 233.5px,#f6f7f7 245.5px)"></div><div style="background:linear-gradient(90deg,#f5f6f7 0.5px,#eaf1f5 20.5px,#edf2f5 176.5px,#ecf2f5 231.5px,#f6f7f7 245.5px)"></div><div style="background:linear-gradient(90deg,#f5f6f7 0.5px,#e9f0f4 16.5px,#e9f0f4 40.5px,#eaf1f5 80.5px,#eaf1f5 203.5px,#e7f0f4 226.5px,#f5f6f7 245.5px)"></div><div style="background:linear-gradient(90deg,#f5f6f7 0.5px,#e6eff4 16.5px,#e6eff4 40.5px,#e9f0f4 112.5px,#e7f0f4 203.5px,#e4eef4 226.5px,#f5f6f7 245.5px)"></div><div style="background:linear-gradient(90deg,#f5f6f7 0.5px,#e3edf3 15.5px,#e3edf3 41.5px,#e6eff4 113.5px,#e4eef4 202.5px,#e1edf3 227.5px,#f5f6f7 245.5px)"></div><div style="background:linear-gradient(90deg,#f3f5f6 0.5px,#deebf2 17.5px,#e1edf3 59.5px,#e1edf3 199.5px,#deebf2 227.5px,#f5f6f7 245.5px)"></div><div style="background:linear-gradient(90deg,#f3f5f6 0.5px,#dae9f2 17.5px,#dae9f2 36.5px,#deebf2 76.5px,#ddebf2 201.5px,#d8e9f1 222.5px,#deebf2 231.5px,#f5f6f7 245.5px)"></div><div style="background:linear-gradient(90deg,#f3f5f6 0.5px,#d8e9f1 15.5px,#d4e6f1 31.5px,#dae9f2 61.5px,#d8e9f1 202.5px,#d5e7f1 224.5px,#dbeaf2 232.5px,#f3f5f6 244.5px,#f3f5f6 245.5px)"></div><div style="background:linear-gradient(90deg,#f2f5f6 0.5px,#e1edf3 8.5px,#d2e6f0 17.5px,#cfe4ef 33.5px,#d5e7f1 57.5px,#d4e6f1 201.5px,#cfe4ef 221.5px,#d5e7f1 230.5px,#f3f5f6 245.5px)"></div><div style="background:linear-gradient(90deg,#f2f5f6 0.5px,#cae1ee 17.5px,#c5dfec 29.5px,#cfe4ef 49.5px,#cfe4ef 200.5px,#c7e0ed 213.5px,#c7e0ed 224.5px,#d7e8f1 233.5px,#f2f5f6 244.5px,#f3f5f6 245.5px)"></div><div style="background:linear-gradient(90deg,#f0f4f6 0.5px,#ddebf2 8.5px,#c2ddec 17.5px,#bddbea 29.5px,#c2ddec 40.5px,#c7e0ed 50.5px,#cae1ee 68.5px,#cae1ee 107.5px,#c7e0ed 113.5px,#c7e0ed 136.5px,#cae1ee 142.5px,#cae1ee 191.5px,#c7e0ed 197.5px,#bddbea 215.5px,#bddbea 221.5px,#c7e0ed 229.5px,#edf2f5 242.5px,#f3f5f6 245.5px)"></div><div style="background:linear-gradient(90deg,#f0f4f6 0.5px,#d1e5f0 11.5px,#bddbea 16.5px,#b6d7e8 23.5px,#b3d6e8 30.5px,#bddbea 46.5px,#c2ddec 66.5px,#c0dceb 196.5px,#b3d6e8 218.5px,#bddbea 228.5px,#e7f0f4 240.5px,#f2f5f6 245.5px)"></div><div style="background:linear-gradient(90deg,#f0f4f6 0.5px,#d8e9f1 8.5px,#b3d6e8 17.5px,#acd2e5 27.5px,#aed3e6 36.5px,#b6d7e8 48.5px,#b8d8e9 60.5px,#bbdaea 66.5px,#b8d8e9 72.5px,#b8d8e9 177.5px,#bbdaea 183.5px,#b8d8e9 189.5px,#b6d7e8 199.5px,#acd2e5 215.5px,#aed3e6 223.5px,#b6d7e8 228.5px,#e3edf3 239.5px,#f2f5f6 245.5px)"></div><div style="background:linear-gradient(90deg,#f0f4f6 0.5px,#dae9f2 7.5px,#b3d6e8 15.5px,#a7d0e4 21.5px,#a7d0e4 37.5px,#aed3e6 48.5px,#b1d5e7 72.5px,#b1d5e7 105.5px,#aed3e6 111.5px,#aed3e6 139.5px,#b1d5e7 145.5px,#b1d5e7 192.5px,#acd2e5 202.5px,#a5cee3 214.5px,#a9d1e5 225.5px,#b8d8e9 230.5px,#deebf2 238.5px,#f2f5f6 245.5px)"></div><div style="background:linear-gradient(90deg,#eff3f5 0.5px,#d4e6f1 8.5px,#a9d1e5 16.5px,#a0cce2 22.5px,#9dcbe1 30.5px,#a2cde3 41.5px,#a9d1e5 55.5px,#a7d0e4 198.5px,#9bc9e0 215.5px,#a2cde3 224.5px,#aed3e6 229.5px,#ddebf2 238.5px,#f2f5f6 245.5px)"></div><div style="background:linear-gradient(90deg,#eff3f5 0.5px,#d7e8f1 7.5px,#c0dceb 11.5px,#a9d1e5 15.5px,#9dcbe1 20.5px,#96c7df 27.5px,#98c8e0 36.5px,#a2cde3 52.5px,#a2cde3 58.5px,#a5cee3 64.5px,#a2cde3 94.5px,#a2cde3 175.5px,#a5cee3 181.5px,#a0cce2 199.5px,#96c7df 215.5px,#98c8e0 221.5px,#a5cee3 228.5px,#b8d8e9 232.5px,#d2e6f0 236.5px,#edf2f5 243.5px,#f2f5f6 245.5px)"></div><div style="background:linear-gradient(90deg,#eff3f5 0.5px,#d2e6f0 8.5px,#a5cee3 15.5px,#96c7df 21.5px,#90c4dd 27.5px,#8dc2dc 30.5px,#98c8e0 43.5px,#9dcbe1 63.5px,#9bc9e0 197.5px,#93c6de 209.5px,#8dc2dc 215.5px,#98c8e0 224.5px,#a2cde3 228.5px,#a9d1e5 230.5px,#d7e8f1 237.5px,#f2f5f6 245.5px)"></div><div style="background:linear-gradient(90deg,#eff3f5 0.5px,#dae9f2 6.5px,#cae1ee 9.5px,#a7d0e4 14.5px,#93c6de 20.5px,#8ac0db 28.5px,#8ac0db 34.5px,#93c6de 43.5px,#98c8e0 63.5px,#96c7df 116.5px,#93c6de 122.5px,#98c8e0 182.5px,#96c7df 198.5px,#8ac0db 213.5px,#8dc2dc 220.5px,#9bc9e0 227.5px,#aed3e6 231.5px,#d5e7f1 237.5px,#ecf2f5 243.5px,#f2f5f6 245.5px)"></div><div style="background:linear-gradient(90deg,#eff3f5 0.5px,#dae9f2 6.5px,#cae1ee 9.5px,#a7d0e4 14.5px,#90c4dd 20.5px,#84bcd9 31.5px,#90c4dd 45.5px,#93c6de 57.5px,#96c7df 63.5px,#96c7df 70.5px,#93c6de 76.5px,#93c6de 98.5px,#90c4dd 104.5px,#90c4dd 146.5px,#93c6de 152.5px,#93c6de 174.5px,#96c7df 180.5px,#96c7df 186.5px,#93c6de 192.5px,#8dc2dc 205.5px,#87beda 211.5px,#84bcd9 215.5px,#93c6de 225.5px,#acd2e5 231.5px,#d1e5f0 236.5px,#e9f0f4 242.5px,#f2f5f6 245.5px)"></div><div style="background:linear-gradient(90deg,#eff3f5 0.5px,#dae9f2 6.5px,#cae1ee 9.5px,#a7d0e4 14.5px,#96c7df 18.5px,#8ac0db 23.5px,#84bcd9 29.5px,#87beda 37.5px,#8dc2dc 45.5px,#93c6de 65.5px,#90c4dd 96.5px,#8dc2dc 102.5px,#8dc2dc 148.5px,#90c4dd 154.5px,#90c4dd 174.5px,#93c6de 180.5px,#93c6de 187.5px,#90c4dd 193.5px,#8ac0db 206.5px,#84bcd9 212.5px,#87beda 219.5px,#93c6de 225.5px,#a2cde3 229.5px,#bbdaea 233.5px,#d5e7f1 237.5px,#edf2f5 243.5px,#f2f5f6 245.5px)"></div><div style="background:linear-gradient(90deg,#eff3f5 0.5px,#d7e8f1 7.5px,#cce2ef 9.5px,#aed3e6 13.5px,#9dcbe1 16.5px,#8ac0db 23.5px,#84bcd9 29.5px,#87beda 38.5px,#8dc2dc 48.5px,#90c4dd 72.5px,#90c4dd 84.5px,#8dc2dc 90.5px,#8dc2dc 109.5px,#8ac0db 115.5px,#8ac0db 135.5px,#8dc2dc 141.5px,#8dc2dc 159.5px,#90c4dd 165.5px,#90c4dd 192.5px,#8dc2dc 198.5px,#84bcd9 214.5px,#87beda 219.5px,#93c6de 225.5px,#a7d0e4 230.5px,#d7e8f1 237.5px,#f2f5f6 245.5px)"></div><div style="background:linear-gradient(90deg,#f0f4f6 0.5px,#d4e6f1 8.5px,#b1d5e7 13.5px,#9dcbe1 17.5px,#8ac0db 25.5px,#87beda 35.5px,#8dc2dc 45.5px,#90c4dd 60.5px,#93c6de 64.5px,#90c4dd 70.5px,#90c4dd 88.5px,#8dc2dc 94.5px,#8dc2dc 112.5px,#8ac0db 118.5px,#8ac0db 131.5px,#8dc2dc 137.5px,#8dc2dc 155.5px,#90c4dd 161.5px,#90c4dd 180.5px,#93c6de 183.5px,#90c4dd 189.5px,#90c4dd 195.5px,#8dc2dc 201.5px,#87beda 214.5px,#8ac0db 219.5px,#a2cde3 228.5px,#bddbea 233.5px,#d7e8f1 237.5px,#f0f4f6 244.5px,#f2f5f6 245.5px)"></div><div style="background:linear-gradient(90deg,#f0f4f6 0.5px,#deebf2 6.5px,#cae1ee 10.5px,#a9d1e5 15.5px,#98c8e0 20.5px,#8dc2dc 27.5px,#8ac0db 33.5px,#90c4dd 43.5px,#93c6de 73.5px,#93c6de 87.5px,#90c4dd 93.5px,#90c4dd 110.5px,#8dc2dc 116.5px,#8dc2dc 134.5px,#90c4dd 140.5px,#90c4dd 157.5px,#93c6de 163.5px,#93c6de 196.5px,#90c4dd 202.5px,#8ac0db 215.5px,#93c6de 221.5px,#9bc9e0 225.5px,#aed3e6 230.5px,#d5e7f1 236.5px,#eff3f5 243.5px,#f2f5f6 245.5px)"></div><div style="background:linear-gradient(90deg,#f0f4f6 0.5px,#e0ecf3 6.5px,#cfe4ef 10.5px,#b6d7e8 14.5px,#a5cee3 18.5px,#96c7df 25.5px,#90c4dd 32.5px,#96c7df 42.5px,#96c7df 102.5px,#93c6de 108.5px,#93c6de 141.5px,#96c7df 147.5px,#96c7df 206.5px,#90c4dd 214.5px,#9dcbe1 223.5px,#acd2e5 228.5px,#c7e0ed 233.5px,#d2e6f0 235.5px,#edf2f5 242.5px,#f3f5f6 245.5px)"></div><div style="background:linear-gradient(90deg,#f2f5f6 0.5px,#e1edf3 6.5px,#d2e6f0 10.5px,#b3d6e8 16.5px,#a0cce2 23.5px,#98c8e0 32.5px,#9dcbe1 42.5px,#9dcbe1 57.5px,#a0cce2 63.5px,#9dcbe1 81.5px,#9bc9e0 111.5px,#98c8e0 116.5px,#98c8e0 133.5px,#9bc9e0 139.5px,#9dcbe1 178.5px,#a0cce2 184.5px,#9dcbe1 202.5px,#98c8e0 213.5px,#a2cde3 222.5px,#b6d7e8 229.5px,#dae9f2 236.5px,#f0f4f6 243.5px,#f3f5f6 245.5px)"></div><div style="background:linear-gradient(90deg,#f3f5f6 0.5px,#dae9f2 9.5px,#cfe4ef 12.5px,#c2ddec 14.5px,#aed3e6 20.5px,#a2cde3 30.5px,#a7d0e4 66.5px,#a5cee3 90.5px,#a2cde3 96.5px,#a2cde3 153.5px,#a5cee3 159.5px,#a5cee3 208.5px,#a2cde3 214.5px,#acd2e5 222.5px,#b3d6e8 226.5px,#c7e0ed 231.5px,#d2e6f0 233.5px,#f2f5f6 243.5px,#f5f6f7 245.5px)"></div><div style="background:linear-gradient(90deg,#f5f6f7 0.5px,#e1edf3 8.5px,#cce2ef 14.5px,#b8d8e9 20.5px,#acd2e5 29.5px,#acd2e5 105.5px,#a9d1e5 111.5px,#a9d1e5 138.5px,#acd2e5 144.5px,#aed3e6 218.5px,#c0dceb 227.5px,#ddebf2 235.5px,#f5f6f7 244.5px,#f6f7f7 245.5px)"></div><div style="background:linear-gradient(90deg,#f6f7f7 0.5px,#e7f0f4 7.5px,#c5dfec 19.5px,#b8d8e9 29.5px,#b8d8e9 38.5px,#bbdaea 44.5px,#b8d8e9 56.5px,#bbdaea 62.5px,#b8d8e9 68.5px,#b6d7e8 112.5px,#b3d6e8 117.5px,#b3d6e8 132.5px,#b6d7e8 138.5px,#b8d8e9 181.5px,#bbdaea 186.5px,#b8d8e9 192.5px,#b8d8e9 198.5px,#bbdaea 204.5px,#b8d8e9 216.5px,#cae1ee 227.5px,#f5f6f7 243.5px,#f7f6f6 245.5px)"></div><div style="background:linear-gradient(90deg,#f7f6f6 0.5px,#e9f0f4 8.5px,#d2e6f0 18.5px,#c5dfec 28.5px,#c5dfec 79.5px,#c2ddec 85.5px,#c2ddec 165.5px,#c5dfec 171.5px,#c7e0ed 219.5px,#deebf2 232.5px,#f5f6f7 242.5px,#f7f5f4 245.5px)"></div><div style="background:linear-gradient(90deg,#f7f5f4 0.5px,#f3f5f6 5.5px,#dae9f2 17.5px,#d1e5f0 30.5px,#cfe4ef 110.5px,#cce2ef 116.5px,#cce2ef 134.5px,#cfe4ef 140.5px,#d2e6f0 219.5px,#ddebf2 229.5px,#f7f6f6 242.5px,#f8f4f2 245.5px)"></div><div style="background:linear-gradient(90deg,#f8f3f0 0.5px,#f5f6f7 6.5px,#e0ecf3 18.5px,#dae9f2 31.5px,#d8e9f1 175.5px,#dbeaf2 220.5px,#e9f0f4 232.5px,#f7f6f6 240.5px,#f8f2ef 245.5px)"></div><div style="background:linear-gradient(90deg,#f8f1ed 0.5px,#f5f6f7 9.5px,#e7f0f4 19.5px,#e1edf3 34.5px,#e3edf3 50.5px,#e1edf3 177.5px,#e3edf3 211.5px,#e4eef4 222.5px,#f0f4f6 233.5px,#f7f5f4 238.5px,#f8f1ed 245.5px)"></div><div style="background:linear-gradient(90deg,#f9efe9 0.5px,#f5f6f7 13.5px,#ecf2f5 24.5px,#ecf2f5 36.5px,#edf2f5 46.5px,#eaf1f5 172.5px,#edf2f5 206.5px,#ecf2f5 218.5px,#f0f4f6 227.5px,#f7f5f4 235.5px,#f9efe9 244.5px,#f9efe9 245.5px)"></div><div style="background:linear-gradient(90deg,#f9ebe3 0.5px,#f6f7f7 20.5px,#f3f5f6 32.5px,#f7f6f6 47.5px,#f3f5f6 142.5px,#f7f6f6 200.5px,#f7f6f6 207.5px,#f3f5f6 217.5px,#f7f5f4 229.5px,#f9ebe3 245.5px)"></div><div style="background:linear-gradient(90deg,#fae9df 0.5px,#f9eee7 11.5px,#f8f2ef 24.5px,#f8f1ed 36.5px,#f9eee7 44.5px,#f9f0eb 62.5px,#f8f1ed 154.5px,#f9f0eb 186.5px,#f9eee7 205.5px,#f8f2ef 213.5px,#f8f1ed 227.5px,#fae9df 243.5px,#fae8de 245.5px)"></div><div style="background:linear-gradient(90deg,#fbe6da 0.5px,#f9ebe3 24.5px,#faeae1 35.5px,#fbe5d8 42.5px,#fae7dc 60.5px,#fae8de 179.5px,#fbe5d8 205.5px,#f9ebe3 214.5px,#faeae1 230.5px,#fbe6da 244.5px,#fbe6da 245.5px)"></div><div style="background:linear-gradient(90deg,#fce2d2 0.5px,#fbe5d8 24.5px,#fbe3d4 35.5px,#fddcc9 43.5px,#fcdecd 54.5px,#fcdecd 64.5px,#fcdfcf 178.5px,#fddcc9 205.5px,#fbe4d6 213.5px,#fbe4d6 234.5px,#fce2d2 245.5px)"></div><div style="background:linear-gradient(90deg,#fcdecd 0.5px,#fcdecd 28.5px,#fddbc7 35.5px,#fbccb4 41.5px,#fbccb4 47.5px,#fbceb7 53.5px,#fbd0b9 67.5px,#fcd3bc 73.5px,#fbd0b9 90.5px,#fcd3bc 96.5px,#fcd3bc 149.5px,#fbd0b9 154.5px,#fbd0b9 161.5px,#fcd3bc 167.5px,#fcd3bc 174.5px,#fbd0b9 179.5px,#fbceb7 191.5px,#fbccb4 197.5px,#facab1 203.5px,#fbd0b9 207.5px,#fddbc7 211.5px,#fcdfcf 224.5px,#fcdecd 245.5px)"></div><div style="background:linear-gradient(90deg,#fdd9c4 0.5px,#fcd7c2 23.5px,#fbceb7 33.5px,#f9c2a7 38.5px,#f8bb9e 40.5px,#f8bb9e 62.5px,#f8bfa4 70.5px,#f8bfa4 79.5px,#f8bda1 84.5px,#f8bda1 90.5px,#f8bfa4 96.5px,#f8bfa4 150.5px,#f8bda1 155.5px,#f8bfa4 175.5px,#f8bb9e 185.5px,#f7b99c 199.5px,#f7b799 203.5px,#f9c4a9 208.5px,#fbceb7 212.5px,#fcd7c2 222.5px,#fdd9c4 245.5px)"></div><div style="background:linear-gradient(90deg,#fcd3bc 0.5px,#fbceb7 9.5px,#fac8af 26.5px,#f8bfa4 33.5px,#f7b596 37.5px,#f5aa89 40.5px,#f4a683 43.5px,#f4a683 60.5px,#f5aa89 66.5px,#f5aa89 179.5px,#f4a683 187.5px,#f4a683 204.5px,#f8bfa4 212.5px,#fac8af 219.5px,#fbceb7 237.5px,#fcd3bc 245.5px)"></div><div style="background:linear-gradient(90deg,#facab1 0.5px,#f8bda1 24.5px,#f6b394 33.5px,#ef9979 39.5px,#ea8e70 42.5px,#ea8e70 54.5px,#e98b6e 58.5px,#ee9677 73.5px,#ec9374 79.5px,#ec9374 96.5px,#ee9677 102.5px,#ee9677 110.5px,#ec9374 116.5px,#ec9374 128.5px,#ee9677 134.5px,#ee9677 143.5px,#ec9374 149.5px,#ec9374 166.5px,#ee9677 172.5px,#e98b6e 190.5px,#e98b6e 203.5px,#f09c7b 207.5px,#f5a886 209.5px,#f6b394 212.5px,#f8bda1 221.5px,#facab1 245.5px)"></div><div style="background:linear-gradient(90deg,#f9c4a9 0.5px,#f6b191 25.5px,#f2a17f 34.5px,#e17860 41.5px,#de735c 60.5px,#e27b62 70.5px,#e27b62 80.5px,#e17860 86.5px,#e27b62 99.5px,#e37e64 105.5px,#e27b62 123.5px,#e27b62 132.5px,#e37e64 138.5px,#e17860 158.5px,#e27b62 175.5px,#dd7059 190.5px,#de735c 196.5px,#de735c 202.5px,#e48066 206.5px,#f2a17f 211.5px,#f6b394 221.5px,#f8bfa4 240.5px,#f9c4a9 245.5px)"></div><div style="background:linear-gradient(90deg,#f8bda1 0.5px,#f6af8e 16.5px,#f2a17f 28.5px,#eb9172 34.5px,#df765e 38.5px,#d7634f 41.5px,#d55d4c 44.5px,#d25849 58.5px,#d7634f 69.5px,#d7634f 79.5px,#d6604d 85.5px,#d6604d 91.5px,#d7634f 97.5px,#d7634f 116.5px,#d6604d 122.5px,#d7634f 128.5px,#d7634f 148.5px,#d6604d 154.5px,#d6604d 161.5px,#d7634f 167.5px,#d7634f 175.5px,#d35a4a 184.5px,#d35a4a 201.5px,#d55d4c 203.5px,#d86551 205.5px,#eb9172 211.5px,#f09c7b 214.5px,#f5aa89 223.5px,#f6af8e 229.5px,#f8bda1 245.5px)"></div><div style="background:linear-gradient(90deg,#f7b799 0.5px,#f2a17f 21.5px,#e6866a 33.5px,#df765e 36.5px,#d35a4a 39.5px,#cb4942 42.5px,#c53e3d 58.5px,#cc4c44 70.5px,#c94741 89.5px,#cc4c44 105.5px,#cb4942 128.5px,#cc4c44 134.5px,#cc4c44 143.5px,#cb4942 149.5px,#cb4942 165.5px,#cc4c44 171.5px,#c53e3d 189.5px,#c84440 201.5px,#cf5246 205.5px,#e27b62 210.5px,#eb9172 215.5px,#f4a683 227.5px,#f7b799 245.5px)"></div><div style="background:linear-gradient(90deg,#f6b394 0.5px,#f5a886 9.5px,#eb9172 24.5px,#e37e64 32.5px,#df765e 34.5px,#d05548 38.5px,#c6413e 40.5px,#bf3338 44.5px,#ba2832 57.5px,#bd2d35 63.5px,#c13639 69.5px,#c13639 76.5px,#be3036 88.5px,#bf3338 94.5px,#c13639 106.5px,#c13639 112.5px,#bf3338 118.5px,#bf3338 127.5px,#c13639 133.5px,#c13639 145.5px,#be3036 157.5px,#bf3338 163.5px,#c13639 174.5px,#ba2832 186.5px,#bd2d35 199.5px,#c13639 203.5px,#cb4942 206.5px,#df765e 211.5px,#e98b6e 217.5px,#f19e7d 228.5px,#f6af8e 241.5px,#f6b394 245.5px)"></div><div style="background:linear-gradient(90deg,#f6af8e 0.5px,#f5a886 6.5px,#eb9172 20.5px,#e58368 27.5px,#dd7059 33.5px,#cf5246 37.5px,#bf3338 40.5px,#b72230 44.5px,#b1182b 53.5px,#ae172a 59.5px,#b41c2d 65.5px,#b72230 70.5px,#b72230 77.5px,#b61f2e 83.5px,#b41c2d 86.5px,#b61f2e 92.5px,#b82531 105.5px,#b72230 111.5px,#b61f2e 125.5px,#b72230 131.5px,#b82531 139.5px,#b72230 145.5px,#b41c2d 156.5px,#b72230 167.5px,#b72230 174.5px,#b1182b 183.5px,#ae172a 191.5px,#b41c2d 199.5px,#b82531 203.5px,#c43b3c 206.5px,#db6b55 211.5px,#e17860 214.5px,#e6866a 218.5px,#ec9374 225.5px,#f5aa89 240.5px,#f6b191 245.5px)"></div><div style="background:linear-gradient(90deg,#f5ac8b 0.5px,#f5a886 5.5px,#e58368 25.5px,#df765e 30.5px,#d55d4c 35.5px,#ba2832 40.5px,#b1182b 43.5px,#9f1228 55.5px,#9c1127 58.5px,#ae172a 70.5px,#a81529 88.5px,#ae172a 103.5px,#ae172a 109.5px,#ab162a 115.5px,#a81529 121.5px,#ab162a 127.5px,#ae172a 143.5px,#a81529 153.5px,#a81529 160.5px,#ae172a 170.5px,#ab162a 176.5px,#a21328 182.5px,#9c1127 190.5px,#ab162a 200.5px,#b3192c 203.5px,#c43b3c 207.5px,#d55d4c 210.5px,#db6b55 212.5px,#e6866a 220.5px,#f5a886 240.5px,#f6af8e 245.5px)"></div><div style="background:linear-gradient(90deg,#f5ac8b 0.5px,#f3a481 7.5px,#ee9677 14.5px,#e37e64 26.5px,#db6b55 32.5px,#d25849 35.5px,#c84440 37.5px,#bb2a34 39.5px,#b3192c 41.5px,#a21328 45.5px,#900d26 57.5px,#960f27 62.5px,#a21328 70.5px,#9c1127 88.5px,#a21328 103.5px,#a21328 109.5px,#9f1228 115.5px,#9c1127 122.5px,#9f1228 128.5px,#a21328 140.5px,#9c1127 155.5px,#9f1228 165.5px,#a21328 171.5px,#9c1127 178.5px,#930e26 184.5px,#900d26 190.5px,#a21328 200.5px,#ab162a 203.5px,#b3192c 204.5px,#c13639 207.5px,#ce4f45 209.5px,#d86551 212.5px,#e27b62 217.5px,#ea8e70 225.5px,#f5a886 240.5px,#f6af8e 245.5px)"></div><div style="background:linear-gradient(90deg,#f6af8e 0.5px,#f2a17f 9.5px,#e58368 24.5px,#df765e 29.5px,#d6604d 34.5px,#c13639 38.5px,#b61f2e 40.5px,#ab162a 42.5px,#960f27 48.5px,#8a0b25 56.5px,#8d0c25 61.5px,#991027 68.5px,#9c1127 72.5px,#930e26 87.5px,#9c1127 103.5px,#960f27 123.5px,#9c1127 140.5px,#930e26 156.5px,#9c1127 172.5px,#8a0b25 187.5px,#8d0c25 193.5px,#9f1228 201.5px,#a81529 203.5px,#b61f2e 205.5px,#d25849 210.5px,#dd7059 214.5px,#e8896c 222.5px,#ef9979 231.5px,#f6af8e 245.5px)"></div><div style="background:linear-gradient(90deg,#f6b191 0.5px,#f2a17f 10.5px,#e8896c 22.5px,#e37e64 27.5px,#db6b55 32.5px,#d25849 35.5px,#c84440 37.5px,#b61f2e 40.5px,#ab162a 42.5px,#960f27 48.5px,#870a24 57.5px,#8d0c25 62.5px,#991027 70.5px,#960f27 80.5px,#930e26 86.5px,#960f27 96.5px,#991027 102.5px,#991027 110.5px,#960f27 116.5px,#930e26 122.5px,#960f27 128.5px,#991027 140.5px,#930e26 155.5px,#960f27 165.5px,#991027 171.5px,#930e26 178.5px,#8a0b25 184.5px,#870a24 190.5px,#9f1228 201.5px,#b1182b 204.5px,#bb2a34 206.5px,#ce4f45 209.5px,#dc6e57 213.5px,#ea8e70 224.5px,#f5a886 238.5px,#f6b191 245.5px)"></div><div style="background:linear-gradient(90deg,#f6b394 0.5px,#f2a17f 12.5px,#e58368 26.5px,#db6b55 33.5px,#d55d4c 35.5px,#bd2d35 39.5px,#b3192c 41.5px,#a21328 45.5px,#8d0c25 53.5px,#8a0b25 59.5px,#991027 68.5px,#9c1127 72.5px,#930e26 86.5px,#960f27 92.5px,#9c1127 104.5px,#960f27 122.5px,#9c1127 140.5px,#960f27 152.5px,#930e26 155.5px,#960f27 161.5px,#9c1127 172.5px,#8a0b25 187.5px,#8d0c25 192.5px,#9f1228 200.5px,#b3192c 204.5px,#bd2d35 206.5px,#d55d4c 210.5px,#df765e 214.5px,#e98b6e 221.5px,#ef9979 228.5px,#f6af8e 241.5px,#f6b394 245.5px)"></div><div style="background:linear-gradient(90deg,#f7b596 0.5px,#f6af8e 6.5px,#ef9979 18.5px,#e6866a 27.5px,#dd7059 33.5px,#d25849 36.5px,#bb2a34 40.5px,#b3192c 42.5px,#991027 50.5px,#900d26 56.5px,#930e26 62.5px,#9f1228 68.5px,#9f1228 76.5px,#991027 86.5px,#a21328 104.5px,#9f1228 110.5px,#9c1127 122.5px,#9f1228 135.5px,#a21328 138.5px,#9f1228 144.5px,#991027 156.5px,#9f1228 169.5px,#9c1127 176.5px,#900d26 186.5px,#8d0c25 188.5px,#960f27 194.5px,#a21328 199.5px,#b3192c 203.5px,#c13639 206.5px,#d7634f 210.5px,#df765e 213.5px,#ea8e70 220.5px,#f5a886 234.5px,#f7b596 243.5px,#f7b799 245.5px)"></div><div style="background:linear-gradient(90deg,#f7b99c 0.5px,#f6b191 7.5px,#f2a17f 17.5px,#eb9172 25.5px,#e27b62 32.5px,#d6604d 36.5px,#c43b3c 39.5px,#b41c2d 43.5px,#991027 54.5px,#960f27 58.5px,#a81529 70.5px,#a21328 87.5px,#a81529 105.5px,#a21328 122.5px,#a51429 128.5px,#a81529 142.5px,#a21328 154.5px,#a21328 160.5px,#a81529 172.5px,#960f27 188.5px,#9f1228 194.5px,#ab162a 199.5px,#b3192c 201.5px,#b72230 203.5px,#cb4942 207.5px,#da6853 210.5px,#e48066 214.5px,#ee9677 221.5px,#f5a886 231.5px,#f8bb9e 245.5px)"></div><div style="background:linear-gradient(90deg,#f8bda1 0.5px,#f7b99c 5.5px,#f3a481 19.5px,#ee9677 26.5px,#e37e64 33.5px,#da6853 36.5px,#c43b3c 40.5px,#ba2832 43.5px,#b3192c 47.5px,#a21328 57.5px,#a81529 63.5px,#b1182b 69.5px,#b1182b 77.5px,#ab162a 88.5px,#b3192c 104.5px,#ae172a 122.5px,#b3192c 139.5px,#ab162a 157.5px,#b1182b 169.5px,#ae172a 177.5px,#a21328 187.5px,#a51429 192.5px,#b41c2d 199.5px,#bd2d35 203.5px,#cf5246 207.5px,#de735c 210.5px,#e8896c 214.5px,#ef9979 219.5px,#f5a886 227.5px,#f8bfa4 245.5px)"></div><div style="background:linear-gradient(90deg,#f9c4a9 0.5px,#f7b799 10.5px,#f2a17f 25.5px,#e98b6e 32.5px,#de735c 36.5px,#cf5246 39.5px,#c43b3c 42.5px,#bb2a34 46.5px,#b3192c 54.5px,#b3192c 62.5px,#b72230 68.5px,#b82531 72.5px,#b61f2e 84.5px,#b61f2e 92.5px,#b82531 103.5px,#b61f2e 123.5px,#b82531 140.5px,#b61f2e 153.5px,#b61f2e 161.5px,#b82531 172.5px,#b1182b 184.5px,#ae172a 188.5px,#b41c2d 194.5px,#be3036 201.5px,#cb4942 205.5px,#da6853 208.5px,#e58368 211.5px,#eb9172 214.5px,#f3a481 220.5px,#f7b799 234.5px,#f9c4a9 245.5px)"></div><div style="background:linear-gradient(90deg,#fac8af 0.5px,#f9c4a9 5.5px,#f7b799 15.5px,#f3a481 27.5px,#eb9172 33.5px,#e37e64 36.5px,#d6604d 39.5px,#cb4942 42.5px,#c2383a 46.5px,#ba2832 53.5px,#b82531 60.5px,#be3036 69.5px,#be3036 78.5px,#bd2d35 84.5px,#bd2d35 92.5px,#be3036 98.5px,#bf3338 106.5px,#be3036 112.5px,#bd2d35 124.5px,#be3036 130.5px,#bf3338 140.5px,#be3036 146.5px,#bd2d35 158.5px,#bf3338 171.5px,#b82531 186.5px,#ba2832 192.5px,#bf3338 197.5px,#c53e3d 201.5px,#d25849 205.5px,#db6b55 207.5px,#ea8e70 211.5px,#f19e7d 215.5px,#f6b191 224.5px,#f8bfa4 236.5px,#facab1 245.5px)"></div><div style="background:linear-gradient(90deg,#fbceb7 0.5px,#f8bda1 15.5px,#f5ac8b 27.5px,#f2a17f 32.5px,#ef9979 34.5px,#d55d4c 41.5px,#cc4c44 45.5px,#c13639 54.5px,#c2383a 63.5px,#c6413e 70.5px,#c53e3d 82.5px,#c43b3c 88.5px,#c53e3d 94.5px,#c6413e 106.5px,#c53e3d 128.5px,#c6413e 134.5px,#c6413e 144.5px,#c53e3d 150.5px,#c43b3c 157.5px,#c53e3d 163.5px,#c6413e 173.5px,#c13639 184.5px,#bf3338 188.5px,#c43b3c 194.5px,#cf5246 202.5px,#d86551 205.5px,#ec9374 210.5px,#f4a683 214.5px,#f7b596 222.5px,#fbceb7 244.5px,#fbceb7 245.5px)"></div><div style="background:linear-gradient(90deg,#fcd5bf 0.5px,#f8bda1 21.5px,#f6b191 29.5px,#f3a481 34.5px,#e6866a 38.5px,#de735c 40.5px,#d6604d 44.5px,#cb4942 53.5px,#cb4942 63.5px,#cf5246 70.5px,#ce4f45 82.5px,#cc4c44 87.5px,#cf5246 104.5px,#cf5246 110.5px,#ce4f45 115.5px,#ce4f45 129.5px,#cf5246 135.5px,#cf5246 143.5px,#ce4f45 148.5px,#cc4c44 157.5px,#ce4f45 163.5px,#cf5246 173.5px,#c94741 186.5px,#cb4942 192.5px,#d7634f 202.5px,#e37e64 206.5px,#f3a481 211.5px,#f7b596 217.5px,#f9c4a9 228.5px,#fcd5bf 245.5px)"></div><div style="background:linear-gradient(90deg,#fdd9c4 0.5px,#fcd5bf 7.5px,#f8bfa4 25.5px,#f6b191 33.5px,#f3a481 36.5px,#e58368 40.5px,#dd7059 44.5px,#d55d4c 52.5px,#d25849 59.5px,#d7634f 70.5px,#d7634f 76.5px,#d6604d 82.5px,#d6604d 94.5px,#d7634f 100.5px,#d7634f 112.5px,#d6604d 118.5px,#d6604d 127.5px,#d7634f 133.5px,#d7634f 145.5px,#d6604d 151.5px,#d6604d 163.5px,#d7634f 169.5px,#d6604d 178.5px,#d25849 187.5px,#d55d4c 193.5px,#dd7059 201.5px,#e58368 205.5px,#f5aa89 210.5px,#f8bb9e 216.5px,#f9c4a9 222.5px,#fbceb7 232.5px,#fddbc7 245.5px)"></div><div style="background:linear-gradient(90deg,#fdddcb 0.5px,#fcd7c2 11.5px,#fbd0b9 17.5px,#f9c2a7 29.5px,#f6b394 35.5px,#ef9979 39.5px,#e48066 44.5px,#dc6e57 53.5px,#db6b55 60.5px,#de735c 70.5px,#de735c 80.5px,#dd7059 86.5px,#de735c 100.5px,#df765e 105.5px,#de735c 111.5px,#de735c 117.5px,#dd7059 122.5px,#de735c 128.5px,#de735c 134.5px,#df765e 139.5px,#de735c 145.5px,#dd7059 160.5px,#de735c 166.5px,#de735c 176.5px,#db6b55 187.5px,#dd7059 194.5px,#e48066 201.5px,#ec9374 205.5px,#f3a481 207.5px,#f8bb9e 212.5px,#fac8af 219.5px,#fdd9c4 236.5px,#fdddcb 245.5px)"></div><div style="background:linear-gradient(90deg,#fce0d0 0.5px,#fdd9c4 16.5px,#fac8af 30.5px,#f8bfa4 34.5px,#f6b394 37.5px,#f5a886 39.5px,#ea8e70 45.5px,#e37e64 54.5px,#e48066 64.5px,#e6866a 72.5px,#e58368 96.5px,#e6866a 102.5px,#e6866a 110.5px,#e58368 116.5px,#e58368 129.5px,#e6866a 135.5px,#e6866a 143.5px,#e58368 149.5px,#e58368 165.5px,#e6866a 171.5px,#e37e64 188.5px,#e58368 195.5px,#f19e7d 204.5px,#f6b394 208.5px,#f8bda1 210.5px,#facab1 215.5px,#fcd3bc 222.5px,#fcdecd 239.5px,#fce0d0 245.5px)"></div><div style="background:linear-gradient(90deg,#fbe3d4 0.5px,#fddbc7 21.5px,#fbccb4 33.5px,#f7b99c 38.5px,#f5aa89 41.5px,#ec9374 51.5px,#ea8e70 59.5px,#ee9677 70.5px,#ee9677 78.5px,#ec9374 84.5px,#ec9374 92.5px,#ee9677 98.5px,#ee9677 115.5px,#ec9374 121.5px,#ee9677 145.5px,#ec9374 161.5px,#ee9677 167.5px,#ee9677 175.5px,#ea8e70 189.5px,#ee9677 195.5px,#f5a886 203.5px,#fbccb4 212.5px,#fdd9c4 221.5px,#fce0d0 237.5px,#fbe3d4 245.5px)"></div><div style="background:linear-gradient(90deg,#fbe5d8 0.5px,#fddcc9 26.5px,#fcd3bc 33.5px,#fac8af 37.5px,#f8bda1 39.5px,#f6af8e 44.5px,#f2a17f 54.5px,#f2a17f 62.5px,#f4a683 70.5px,#f3a481 181.5px,#f2a17f 186.5px,#f3a481 193.5px,#f6af8e 200.5px,#f8bb9e 205.5px,#fcd3bc 211.5px,#fddcc9 218.5px,#fbe6da 245.5px)"></div><div style="background:linear-gradient(90deg,#fae8de 0.5px,#fdddcb 31.5px,#fcd5bf 36.5px,#f8bfa4 42.5px,#f7b596 48.5px,#f6af8e 56.5px,#f6b191 66.5px,#f6b394 72.5px,#f6b394 80.5px,#f6b191 86.5px,#f6b394 116.5px,#f6b191 121.5px,#f6b394 127.5px,#f6b394 149.5px,#f6b191 155.5px,#f6b394 176.5px,#f6af8e 186.5px,#f6b191 193.5px,#f8bda1 202.5px,#fbd0b9 208.5px,#fddbc7 212.5px,#fce2d2 224.5px,#fae8de 245.5px)"></div><div style="background:linear-gradient(90deg,#faeae1 0.5px,#fce2d2 29.5px,#fdddcb 35.5px,#fac8af 43.5px,#f9c2a7 47.5px,#f8bb9e 56.5px,#f8bb9e 63.5px,#f8bfa4 73.5px,#f8bda1 90.5px,#f8bda1 96.5px,#f8bfa4 102.5px,#f8bfa4 109.5px,#f8bda1 114.5px,#f8bda1 129.5px,#f8bfa4 135.5px,#f8bfa4 143.5px,#f8bda1 148.5px,#f8bda1 165.5px,#f8bfa4 171.5px,#f8bb9e 188.5px,#f8bda1 194.5px,#fbccb4 204.5px,#fdddcb 210.5px,#fbe5d8 224.5px,#faeae1 245.5px)"></div><div style="background:linear-gradient(90deg,#f9ebe3 0.5px,#fbe6da 26.5px,#fcdecd 37.5px,#fcd5bf 41.5px,#facab1 50.5px,#f9c6ac 60.5px,#facab1 76.5px,#fac8af 182.5px,#f9c6ac 188.5px,#fbccb4 198.5px,#fddbc7 206.5px,#fbe4d6 214.5px,#fae9df 232.5px,#f9ebe3 245.5px)"></div><div style="background:linear-gradient(90deg,#f9eee7 0.5px,#fbe6da 33.5px,#fcd7c2 46.5px,#fbd0b9 58.5px,#fcd5bf 73.5px,#fcd3bc 78.5px,#fcd3bc 98.5px,#fcd5bf 104.5px,#fcd3bc 131.5px,#fcd5bf 137.5px,#fcd3bc 166.5px,#fcd5bf 172.5px,#fcd3bc 177.5px,#fbd0b9 191.5px,#fbe3d4 209.5px,#fae7dc 215.5px,#f9eee7 245.5px)"></div><div style="background:linear-gradient(90deg,#f9efe9 0.5px,#faeae1 28.5px,#fbe6da 36.5px,#fcdecd 44.5px,#fddbc7 57.5px,#fddcc9 196.5px,#fbe4d6 207.5px,#fae9df 213.5px,#f9efe9 245.5px)"></div><div style="background:linear-gradient(90deg,#f8f1ed 0.5px,#f9ebe3 32.5px,#fce2d2 46.5px,#fce0d0 70.5px,#fce0d0 196.5px,#f9ede5 217.5px,#f8f1ed 245.5px)"></div><div style="background:linear-gradient(90deg,#f8f2ef 0.5px,#f9ede5 34.5px,#fbe5d8 47.5px,#fbe3d4 62.5px,#fbe4d6 195.5px,#f9eee7 215.5px,#f8f2ef 245.5px)"></div><div style="background:linear-gradient(90deg,#f8f3f0 0.5px,#f9efe9 34.5px,#fae8de 45.5px,#fbe6da 61.5px,#fae7dc 196.5px,#f9f0eb 217.5px,#f8f3f0 245.5px)"></div><div style="background:linear-gradient(90deg,#f8f3f0 0.5px,#f8f1ed 32.5px,#faeae1 49.5px,#faeae1 198.5px,#f8f1ed 216.5px,#f8f3f0 245.5px)"></div><div style="background:linear-gradient(90deg,#f8f4f2 0.5px,#f8f1ed 36.5px,#f9ede5 52.5px,#f9ede5 197.5px,#f8f2ef 217.5px,#f8f4f2 245.5px)"></div><div style="background:linear-gradient(90deg,#f7f5f4 0.5px,#f8f1ed 40.5px,#f9eee7 63.5px,#f9efe9 199.5px,#f8f3f0 217.5px,#f7f5f4 245.5px)"></div><div style="background:linear-gradient(90deg,#f7f5f4 0.5px,#f8f2ef 41.5px,#f9f0eb 62.5px,#f8f1ed 202.5px,#f8f4f2 224.5px,#f7f5f4 245.5px)"></div><div style="background:linear-gradient(90deg,#f7f5f4 0.5px,#f8f4f2 36.5px,#f8f1ed 65.5px,#f8f2ef 202.5px,#f7f5f4 236.5px,#f7f5f4 245.5px)"></div><div style="background:linear-gradient(90deg,#f7f6f6 0.5px,#f8f4f2 41.5px,#f8f3f0 97.5px,#f8f3f0 203.5px,#f7f5f4 224.5px,#f7f6f6 245.5px)"></div><div style="background:linear-gradient(90deg,#f7f6f6 0.5px,#f8f3f0 89.5px,#f8f4f2 206.5px,#f7f6f6 245.5px)"></div><div style="background:linear-gradient(90deg,#f7f6f6 0.5px,#f7f5f4 44.5px,#f7f5f4 214.5px,#f7f6f6 245.5px)"></div><div style="background:linear-gradient(90deg,#f7f6f6 0.5px,#f7f6f6 245.5px)"></div><div style="background:linear-gradient(90deg,#f7f6f6 0.5px,#f7f6f6 245.5px)"></div><div style="background:linear-gradient(90deg,#f7f6f6 0.5px,#f7f6f6 245.5px)"></div><div style="background:linear-gradient(90deg,#f7f6f6 0.5px,#f7f6f6 245.5px)"></div><div style="background:linear-gradient(90deg,#f7f6f6 0.5px,#f7f6f6 245.5px)"></div><div style="background:linear-gradient(90deg,#f7f6f6 0.5px,#f7f6f6 245.5px)"></div><div style="background:linear-gradient(90deg,#f7f6f6 0.5px,#f7f6f6 245.5px)"></div><div style="background:linear-gradient(90deg,#f7f6f6 0.5px,#f7f6f6 245.5px)"></div><div style="background:linear-gradient(90deg,#f7f6f6 0.5px,#f7f6f6 245.5px)"></div><div style="background:linear-gradient(90deg,#f7f6f6 0.5px,#f7f6f6 245.5px)"></div><div style="background:linear-gradient(90deg,#f7f6f6 0.5px,#f7f6f6 245.5px)"></div><div style="background:linear-gradient(90deg,#f7f6f6 0.5px,#f7f6f6 245.5px)"></div><div style="background:linear-gradient(90deg,#f7f6f6 0.5px,#f7f6f6 245.5px)"></div><div style="background:linear-gradient(90deg,#f7f6f6 0.5px,#f7f6f6 245.5px)"></div><div style="background:linear-gradient(90deg,#f7f6f6 0.5px,#f7f6f6 245.5px)"></div><div style="background:linear-gradient(90deg,#f7f6f6 0.5px,#f7f6f6 245.5px)"></div><div style="background:linear-gradient(90deg,#f7f6f6 0.5px,#f7f6f6 245.5px)"></div><div style="background:linear-gradient(90deg,#f7f6f6 0.5px,#f7f6f6 245.5px)"></div><div style="background:linear-gradient(90deg,#f7f6f6 0.5px,#f7f6f6 245.5px)"></div><div style="background:linear-gradient(90deg,#f7f6f6 0.5px,#f7f6f6 245.5px)"></div><div style="background:linear-gradient(90deg,#f7f6f6 0.5px,#f7f6f6 245.5px)"></div><div style="background:linear-gradient(90deg,#f7f6f6 0.5px,#f7f6f6 245.5px)"></div><div style="background:linear-gradient(90deg,#f7f6f6 0.5px,#f7f6f6 245.5px)"></div><div style="background:linear-gradient(90deg,#f7f6f6 0.5px,#f7f6f6 245.5px)"></div><div style="background:linear-gradient(90deg,#f7f6f6 0.5px,#f7f6f6 245.5px)"></div><div style="background:linear-gradient(90deg,#f7f6f6 0.5px,#f7f6f6 245.5px)"></div><div style="background:linear-gradient(90deg,#f7f6f6 0.5px,#f7f6f6 245.5px)"></div><div style="background:linear-gradient(90deg,#f7f6f6 0.5px,#f7f6f6 245.5px)"></div></div>
<div class="g" style="left:384px;top:28px;width:67px;height:117px"></div>
<div class="g" style="left:562px;top:28px;width:68px;height:117px"></div>
<div class="h" style="left:451px;top:28px;width:112px"><div style="background:linear-gradient(90deg,#d7e8f1 0.5px,#d5e7f1 104.5px,#d7e8f1 111.5px)"></div><div style="background:linear-gradient(90deg,#d2e6f0 0.5px,#cfe4ef 85.5px,#d2e6f0 111.5px)"></div><div style="background:linear-gradient(90deg,#cce2ef 0.5px,#cae1ee 10.5px,#c7e0ed 16.5px,#c7e0ed 98.5px,#cae1ee 104.5px,#cce2ef 111.5px)"></div><div style="background:linear-gradient(90deg,#c5dfec 0.5px,#c0dceb 14.5px,#c0dceb 24.5px,#bddbea 30.5px,#bddbea 84.5px,#c0dceb 90.5px,#c2ddec 107.5px,#c5dfec 111.5px)"></div><div style="background:linear-gradient(90deg,#bbdaea 0.5px,#b6d7e8 16.5px,#b6d7e8 31.5px,#b3d6e8 36.5px,#b3d6e8 78.5px,#b6d7e8 84.5px,#b8d8e9 106.5px,#bbdaea 111.5px)"></div><div style="background:linear-gradient(90deg,#b1d5e7 0.5px,#acd2e5 16.5px,#acd2e5 24.5px,#a9d1e5 30.5px,#a9d1e5 85.5px,#acd2e5 91.5px,#aed3e6 105.5px,#b3d6e8 111.5px)"></div><div style="background:linear-gradient(90deg,#a7d0e4 0.5px,#a0cce2 19.5px,#a2cde3 102.5px,#a9d1e5 111.5px)"></div><div style="background:linear-gradient(90deg,#9dcbe1 0.5px,#96c7df 14.5px,#96c7df 27.5px,#93c6de 33.5px,#93c6de 82.5px,#96c7df 88.5px,#98c8e0 104.5px,#9dcbe1 111.5px)"></div><div style="background:linear-gradient(90deg,#93c6de 0.5px,#8ac0db 9.5px,#87beda 21.5px,#87beda 36.5px,#84bcd9 42.5px,#84bcd9 72.5px,#87beda 78.5px,#87beda 98.5px,#93c6de 111.5px)"></div><div style="background:linear-gradient(90deg,#84bcd9 0.5px,#78b4d5 14.5px,#78b4d5 39.5px,#75b2d4 45.5px,#75b2d4 70.5px,#78b4d5 76.5px,#78b4d5 97.5px,#7eb8d7 104.5px,#84bcd9 110.5px,#84bcd9 111.5px)"></div><div style="background:linear-gradient(90deg,#75b2d4 0.5px,#75b2d4 2.5px,#71b0d3 4.5px,#6bacd1 10.5px,#68abd0 22.5px,#68abd0 38.5px,#65a9cf 44.5px,#65a9cf 71.5px,#68abd0 77.5px,#68abd0 97.5px,#71b0d3 106.5px,#75b2d4 108.5px,#78b4d5 111.5px)"></div><div style="background:linear-gradient(90deg,#68abd0 0.5px,#5ca3cb 10.5px,#59a1ca 22.5px,#59a1ca 35.5px,#569fc9 41.5px,#569fc9 74.5px,#59a1ca 80.5px,#59a1ca 97.5px,#68abd0 111.5px)"></div><div style="background:linear-gradient(90deg,#59a1ca 0.5px,#4c99c6 9.5px,#4997c5 27.5px,#4695c4 63.5px,#4695c4 77.5px,#4997c5 83.5px,#4997c5 97.5px,#529dc8 106.5px,#59a1ca 110.5px,#59a1ca 111.5px)"></div><div style="background:linear-gradient(90deg,#4997c5 0.5px,#3f8ec0 13.5px,#3f8ec0 97.5px,#4695c4 107.5px,#4c99c6 111.5px)"></div><div style="background:linear-gradient(90deg,#408fc1 0.5px,#3885bc 15.5px,#3885bc 97.5px,#408fc1 111.5px)"></div><div style="background:linear-gradient(90deg,#3a87bd 0.5px,#337eb8 13.5px,#307ab6 73.5px,#337eb8 100.5px,#3b88be 111.5px)"></div><div style="background:linear-gradient(90deg,#3480b9 0.5px,#2c75b4 14.5px,#2a71b2 65.5px,#2e77b5 101.5px,#3480b9 111.5px)"></div><div style="background:linear-gradient(90deg,#2f79b5 0.5px,#276eb0 12.5px,#246aae 72.5px,#2870b1 101.5px,#2f79b5 111.5px)"></div><div style="background:linear-gradient(90deg,#2a71b2 0.5px,#2267ac 14.5px,#2065ab 36.5px,#1f63a8 42.5px,#1f63a8 73.5px,#2065ab 79.5px,#2369ad 101.5px,#2b73b3 111.5px)"></div><div style="background:linear-gradient(90deg,#266caf 0.5px,#1f63a8 8.5px,#1d5fa2 14.5px,#1d5fa2 24.5px,#1c5c9f 30.5px,#1c5c9f 43.5px,#1b5a9c 49.5px,#1b5a9c 66.5px,#1c5c9f 72.5px,#1c5c9f 85.5px,#1d5fa2 91.5px,#1d5fa2 97.5px,#266caf 109.5px,#266caf 111.5px)"></div><div style="background:linear-gradient(90deg,#2267ac 0.5px,#1e61a5 5.5px,#1a5899 11.5px,#1a5899 20.5px,#195696 26.5px,#195696 39.5px,#185493 45.5px,#185493 70.5px,#195696 76.5px,#195696 88.5px,#1a5899 94.5px,#1b5a9c 100.5px,#2267ac 110.5px,#2267ac 111.5px)"></div><div style="background:linear-gradient(90deg,#1e61a5 0.5px,#1a5899 7.5px,#175290 14.5px,#175290 26.5px,#15508d 32.5px,#15508d 44.5px,#144e8a 50.5px,#144e8a 65.5px,#15508d 71.5px,#15508d 83.5px,#175290 89.5px,#175290 97.5px,#1a5899 103.5px,#1f63a8 111.5px)"></div><div style="background:linear-gradient(90deg,#1c5c9f 0.5px,#195696 5.5px,#15508d 10.5px,#144e8a 22.5px,#134c87 28.5px,#134c87 41.5px,#124984 47.5px,#124984 68.5px,#134c87 74.5px,#134c87 86.5px,#144e8a 92.5px,#15508d 100.5px,#1d5fa2 111.5px)"></div><div style="background:linear-gradient(90deg,#1b5a9c 0.5px,#134c87 10.5px,#124984 29.5px,#114781 35.5px,#114781 47.5px,#10457e 53.5px,#10457e 62.5px,#114781 68.5px,#114781 80.5px,#124984 86.5px,#124984 95.5px,#175290 104.5px,#1b5a9c 111.5px)"></div><div style="background:linear-gradient(90deg,#1a5899 0.5px,#124984 10.5px,#114781 28.5px,#10457e 34.5px,#10457e 46.5px,#0f437b 52.5px,#0f437b 64.5px,#10457e 70.5px,#10457e 81.5px,#114781 87.5px,#114781 96.5px,#15508d 104.5px,#1a5899 111.5px)"></div><div style="background:linear-gradient(90deg,#1a5899 0.5px,#114781 11.5px,#114781 19.5px,#10457e 25.5px,#10457e 37.5px,#0f437b 43.5px,#0f437b 72.5px,#10457e 78.5px,#10457e 89.5px,#114781 95.5px,#124984 100.5px,#1a5899 111.5px)"></div><div style="background:linear-gradient(90deg,#1a5899 0.5px,#124984 10.5px,#114781 22.5px,#10457e 40.5px,#0f437b 58.5px,#0f437b 67.5px,#10457e 73.5px,#10457e 85.5px,#114781 91.5px,#114781 97.5px,#144e8a 103.5px,#1a5899 110.5px,#1a5899 111.5px)"></div><div style="background:linear-gradient(90deg,#1b5a9c 0.5px,#134c87 10.5px,#124984 29.5px,#114781 35.5px,#114781 47.5px,#10457e 53.5px,#10457e 62.5px,#114781 68.5px,#114781 80.5px,#124984 86.5px,#124984 95.5px,#175290 104.5px,#1b5a9c 111.5px)"></div><div style="background:linear-gradient(90deg,#1d5fa2 0.5px,#195696 6.5px,#15508d 12.5px,#144e8a 35.5px,#134c87 41.5px,#134c87 74.5px,#144e8a 80.5px,#144e8a 91.5px,#15508d 97.5px,#185493 102.5px,#1e61a5 111.5px)"></div><div style="background:linear-gradient(90deg,#2065ab 0.5px,#1a5899 10.5px,#195696 22.5px,#185493 28.5px,#185493 42.5px,#175290 48.5px,#175290 68.5px,#185493 74.5px,#185493 86.5px,#195696 92.5px,#1a5899 100.5px,#1e61a5 106.5px,#2267ac 111.5px)"></div><div style="background:linear-gradient(90deg,#266caf 0.5px,#1f63a8 9.5px,#1d5fa2 15.5px,#1d5fa2 27.5px,#1c5c9f 33.5px,#1c5c9f 46.5px,#1b5a9c 52.5px,#1b5a9c 63.5px,#1c5c9f 69.5px,#1c5c9f 82.5px,#1d5fa2 88.5px,#1d5fa2 97.5px,#266caf 109.5px,#266caf 111.5px)"></div><div style="background:linear-gradient(90deg,#2c75b4 0.5px,#2369ad 12.5px,#2065ab 61.5px,#266caf 102.5px,#2c75b4 111.5px)"></div><div style="background:linear-gradient(90deg,#337eb8 0.5px,#2b73b3 13.5px,#2a71b2 75.5px,#2c75b4 101.5px,#337eb8 111.5px)"></div><div style="background:linear-gradient(90deg,#3b88be 0.5px,#337eb8 15.5px,#327cb7 65.5px,#3480b9 101.5px,#3b88be 111.5px)"></div><div style="background:linear-gradient(90deg,#4393c3 0.5px,#3c8abe 13.5px,#3b88be 88.5px,#3f8ec0 104.5px,#4393c3 111.5px)"></div><div style="background:linear-gradient(90deg,#59a1ca 0.5px,#4997c5 11.5px,#4997c5 23.5px,#4695c4 29.5px,#4695c4 53.5px,#4393c3 56.5px,#4695c4 62.5px,#4695c4 85.5px,#4997c5 91.5px,#4997c5 99.5px,#569fc9 108.5px,#59a1ca 111.5px)"></div><div style="background:linear-gradient(90deg,#6bacd1 0.5px,#65a9cf 7.5px,#5fa5cd 13.5px,#5fa5cd 34.5px,#5ca3cb 40.5px,#5ca3cb 75.5px,#5fa5cd 81.5px,#5fa5cd 98.5px,#6eaed2 111.5px)"></div><div style="background:linear-gradient(90deg,#81bad8 0.5px,#78b4d5 12.5px,#75b2d4 36.5px,#75b2d4 93.5px,#78b4d5 99.5px,#84bcd9 111.5px)"></div><div style="background:linear-gradient(90deg,#96c7df 0.5px,#8dc2dc 13.5px,#8dc2dc 37.5px,#8ac0db 43.5px,#8ac0db 72.5px,#8dc2dc 78.5px,#8dc2dc 99.5px,#98c8e0 111.5px)"></div><div style="background:linear-gradient(90deg,#a7d0e4 0.5px,#a0cce2 19.5px,#a2cde3 103.5px,#a7d0e4 111.5px)"></div><div style="background:linear-gradient(90deg,#b8d8e9 0.5px,#b3d6e8 16.5px,#b3d6e8 102.5px,#b8d8e9 111.5px)"></div><div style="background:linear-gradient(90deg,#cae1ee 0.5px,#c5dfec 18.5px,#c7e0ed 107.5px,#cae1ee 111.5px)"></div><div style="background:linear-gradient(90deg,#d7e8f1 0.5px,#d4e6f1 60.5px,#d7e8f1 111.5px)"></div><div style="background:linear-gradient(90deg,#e0ecf3 0.5px,#e0ecf3 111.5px)"></div><div style="background:linear-gradient(90deg,#eaf1f5 0.5px,#eaf1f5 111.5px)"></div><div style="background:linear-gradient(90deg,#f3f5f6 0.5px,#f3f5f6 111.5px)"></div><div style="background:linear-gradient(90deg,#f8f3f0 0.5px,#f8f1ed 92.5px,#f8f3f0 111.5px)"></div><div style="background:linear-gradient(90deg,#f9ede5 0.5px,#fae9df 44.5px,#faeae1 98.5px,#f9ede5 111.5px)"></div><div style="background:linear-gradient(90deg,#fbe6da 0.5px,#fbe3d4 25.5px,#fbe3d4 94.5px,#fbe6da 111.5px)"></div><div style="background:linear-gradient(90deg,#fcdfcf 0.5px,#fddcc9 24.5px,#fddbc7 53.5px,#fdd9c4 57.5px,#fddbc7 63.5px,#fdddcb 100.5px,#fcdfcf 111.5px)"></div><div style="background:linear-gradient(90deg,#fdd9c4 0.5px,#fcd5bf 9.5px,#fbd0b9 17.5px,#fbceb7 47.5px,#fbccb4 53.5px,#fbccb4 63.5px,#fbceb7 69.5px,#fbd0b9 95.5px,#fdd9c4 110.5px,#fdd9c4 111.5px)"></div><div style="background:linear-gradient(90deg,#fbceb7 0.5px,#f9c4a9 19.5px,#f9c2a7 50.5px,#f8bfa4 55.5px,#f9c4a9 93.5px,#fbceb7 111.5px)"></div><div style="background:linear-gradient(90deg,#f9c4a9 0.5px,#f8bda1 11.5px,#f7b99c 21.5px,#f7b799 43.5px,#f7b596 49.5px,#f7b596 66.5px,#f7b799 72.5px,#f7b799 82.5px,#f7b99c 88.5px,#f8bb9e 98.5px,#f9c4a9 109.5px,#f9c4a9 111.5px)"></div><div style="background:linear-gradient(90deg,#f8bb9e 0.5px,#f7b799 7.5px,#f6b191 15.5px,#f6af8e 31.5px,#f5ac8b 37.5px,#f5ac8b 78.5px,#f6af8e 84.5px,#f6af8e 91.5px,#f8bb9e 111.5px)"></div><div style="background:linear-gradient(90deg,#f6b394 0.5px,#f6b191 5.5px,#f5a886 15.5px,#f3a481 44.5px,#f2a17f 49.5px,#f2a17f 65.5px,#f3a481 71.5px,#f4a683 91.5px,#f5ac8b 101.5px,#f6b394 109.5px,#f7b596 111.5px)"></div><div style="background:linear-gradient(90deg,#f6af8e 0.5px,#f2a17f 14.5px,#f09c7b 34.5px,#ef9979 70.5px,#f09c7b 76.5px,#f19e7d 93.5px,#f6af8e 111.5px)"></div><div style="background:linear-gradient(90deg,#f5a886 0.5px,#f2a17f 9.5px,#ef9979 17.5px,#ee9677 32.5px,#ec9374 38.5px,#ec9374 77.5px,#ee9677 83.5px,#ee9677 89.5px,#f2a17f 102.5px,#f5aa89 111.5px)"></div><div style="background:linear-gradient(90deg,#f4a683 0.5px,#ec9374 18.5px,#eb9172 37.5px,#ea8e70 43.5px,#ea8e70 50.5px,#e98b6e 56.5px,#ea8e70 72.5px,#eb9172 78.5px,#ec9374 93.5px,#f4a683 111.5px)"></div><div style="background:linear-gradient(90deg,#f3a481 0.5px,#ef9979 10.5px,#eb9172 19.5px,#eb9172 27.5px,#ea8e70 33.5px,#ea8e70 40.5px,#e98b6e 46.5px,#e98b6e 69.5px,#ea8e70 75.5px,#ea8e70 81.5px,#eb9172 87.5px,#ee9677 98.5px,#f19e7d 104.5px,#f4a683 111.5px)"></div><div style="background:linear-gradient(90deg,#f3a481 0.5px,#ef9979 10.5px,#ec9374 16.5px,#eb9172 28.5px,#ea8e70 34.5px,#ea8e70 41.5px,#e98b6e 47.5px,#e98b6e 68.5px,#ea8e70 74.5px,#ea8e70 81.5px,#eb9172 87.5px,#ee9677 98.5px,#f19e7d 104.5px,#f4a683 111.5px)"></div><div style="background:linear-gradient(90deg,#f4a683 0.5px,#ec9374 18.5px,#eb9172 37.5px,#ea8e70 43.5px,#ea8e70 51.5px,#e98b6e 57.5px,#ea8e70 72.5px,#eb9172 78.5px,#ec9374 93.5px,#f4a683 111.5px)"></div><div style="background:linear-gradient(90deg,#f5a886 0.5px,#f2a17f 8.5px,#ef9979 16.5px,#ee9677 28.5px,#ec9374 34.5px,#ec9374 80.5px,#ee9677 86.5px,#ef9979 96.5px,#f5a886 110.5px,#f5a886 111.5px)"></div><div style="background:linear-gradient(90deg,#f5ac8b 0.5px,#f2a17f 12.5px,#f09c7b 22.5px,#ef9979 40.5px,#ee9677 46.5px,#ee9677 69.5px,#ef9979 75.5px,#ef9979 82.5px,#f09c7b 88.5px,#f2a17f 99.5px,#f5ac8b 111.5px)"></div><div style="background:linear-gradient(90deg,#f6b191 0.5px,#f3a481 15.5px,#f2a17f 32.5px,#f19e7d 37.5px,#f19e7d 77.5px,#f2a17f 83.5px,#f2a17f 90.5px,#f5a886 101.5px,#f6b191 111.5px)"></div><div style="background:linear-gradient(90deg,#f7b596 0.5px,#f6af8e 9.5px,#f5a886 20.5px,#f5a886 29.5px,#f4a683 35.5px,#f4a683 80.5px,#f5a886 86.5px,#f5a886 92.5px,#f7b596 110.5px,#f7b596 111.5px)"></div><div style="background:linear-gradient(90deg,#f8bb9e 0.5px,#f6af8e 19.5px,#f6af8e 30.5px,#f5ac8b 36.5px,#f5ac8b 78.5px,#f6af8e 84.5px,#f6af8e 92.5px,#f8bb9e 111.5px)"></div><div style="background:linear-gradient(90deg,#f9c2a7 0.5px,#f7b799 17.5px,#f6b394 56.5px,#f7b596 89.5px,#f7b799 95.5px,#f9c2a7 111.5px)"></div><div style="background:linear-gradient(90deg,#fac8af 0.5px,#f8bda1 19.5px,#f8bda1 29.5px,#f8bb9e 34.5px,#f8bb9e 80.5px,#f8bda1 86.5px,#f8bda1 94.5px,#fac8af 111.5px)"></div><div style="background:linear-gradient(90deg,#fbceb7 0.5px,#f9c6ac 16.5px,#f9c2a7 67.5px,#f9c4a9 88.5px,#f9c6ac 94.5px,#fbccb4 107.5px,#fbceb7 111.5px)"></div><div style="background:linear-gradient(90deg,#fcd5bf 0.5px,#fcd3bc 6.5px,#fbccb4 19.5px,#fbccb4 34.5px,#facab1 40.5px,#facab1 75.5px,#fbccb4 81.5px,#fbccb4 93.5px,#fcd5bf 111.5px)"></div><div style="background:linear-gradient(90deg,#fddbc7 0.5px,#fcd5bf 18.5px,#fcd3bc 50.5px,#fbd0b9 55.5px,#fcd3bc 85.5px,#fcd5bf 91.5px,#fcd5bf 97.5px,#fddbc7 111.5px)"></div><div style="background:linear-gradient(90deg,#fcdecd 0.5px,#fddbc7 25.5px,#fddbc7 35.5px,#fdd9c4 41.5px,#fdd9c4 74.5px,#fddbc7 80.5px,#fddcc9 100.5px,#fcdecd 111.5px)"></div><div style="background:linear-gradient(90deg,#fce2d2 0.5px,#fcdecd 32.5px,#fcdecd 93.5px,#fce2d2 111.5px)"></div><div style="background:linear-gradient(90deg,#fbe5d8 0.5px,#fce2d2 27.5px,#fce2d2 94.5px,#fbe5d8 111.5px)"></div><div style="background:linear-gradient(90deg,#fae7dc 0.5px,#fbe5d8 34.5px,#fbe5d8 97.5px,#fae7dc 111.5px)"></div><div style="background:linear-gradient(90deg,#fae9df 0.5px,#fae7dc 88.5px,#fae9df 111.5px)"></div><div style="background:linear-gradient(90deg,#f9ebe3 0.5px,#fae9df 72.5px,#f9ebe3 111.5px)"></div><div style="background:linear-gradient(90deg,#f9eee7 0.5px,#f9ebe3 70.5px,#f9eee7 111.5px)"></div><div style="background:linear-gradient(90deg,#f9efe9 0.5px,#f9efe9 111.5px)"></div><div style="background:linear-gradient(90deg,#f8f1ed 0.5px,#f8f1ed 111.5px)"></div><div style="background:linear-gradient(90deg,#f8f2ef 0.5px,#f8f2ef 111.5px)"></div><div style="background:linear-gradient(90deg,#f8f3f0 0.5px,#f8f3f0 111.5px)"></div><div style="background:linear-gradient(90deg,#f8f4f2 0.5px,#f8f4f2 111.5px)"></div><div style="background:linear-gradient(90deg,#f8f4f2 0.5px,#f8f4f2 111.5px)"></div><div style="background:linear-gradient(90deg,#f7f5f4 0.5px,#f7f5f4 111.5px)"></div><div style="background:linear-gradient(90deg,#f7f5f4 0.5px,#f7f5f4 111.5px)"></div><div style="background:linear-gradient(90deg,#f7f5f4 0.5px,#f7f5f4 111.5px)"></div><div style="background:linear-gradient(90deg,#f7f6f6 0.5px,#f7f6f6 111.5px)"></div><div style="background:linear-gradient(90deg,#f7f6f6 0.5px,#f7f6f6 111.5px)"></div><div style="background:linear-gradient(90deg,#f7f6f6 0.5px,#f7f6f6 111.5px)"></div><div style="background:linear-gradient(90deg,#f7f6f6 0.5px,#f7f6f6 111.5px)"></div><div style="background:linear-gradient(90deg,#f7f6f6 0.5px,#f7f6f6 111.5px)"></div><div style="background:linear-gradient(90deg,#f7f6f6 0.5px,#f7f6f6 111.5px)"></div><div style="background:linear-gradient(90deg,#f7f6f6 0.5px,#f7f6f6 111.5px)"></div><div style="background:linear-gradient(90deg,#f7f6f6 0.5px,#f7f6f6 111.5px)"></div><div style="background:linear-gradient(90deg,#f7f6f6 0.5px,#f7f6f6 111.5px)"></div><div style="background:linear-gradient(90deg,#f7f6f6 0.5px,#f7f6f6 111.5px)"></div><div style="background:linear-gradient(90deg,#f7f6f6 0.5px,#f7f6f6 111.5px)"></div><div style="background:linear-gradient(90deg,#f7f6f6 0.5px,#f7f6f6 111.5px)"></div><div style="background:linear-gradient(90deg,#f7f6f6 0.5px,#f7f6f6 111.5px)"></div><div style="background:linear-gradient(90deg,#f7f6f6 0.5px,#f7f6f6 111.5px)"></div><div style="background:linear-gradient(90deg,#f7f6f6 0.5px,#f7f6f6 111.5px)"></div><div style="background:linear-gradient(90deg,#f7f6f6 0.5px,#f7f6f6 111.5px)"></div><div style="background:linear-gradient(90deg,#f7f6f6 0.5px,#f7f6f6 111.5px)"></div><div style="background:linear-gradient(90deg,#f7f6f6 0.5px,#f7f6f6 111.5px)"></div><div style="background:linear-gradient(90deg,#f7f6f6 0.5px,#f7f6f6 111.5px)"></div><div style="background:linear-gradient(90deg,#f7f6f6 0.5px,#f7f6f6 111.5px)"></div><div style="background:linear-gradient(90deg,#f7f6f6 0.5px,#f7f6f6 111.5px)"></div><div style="background:linear-gradient(90deg,#f7f6f6 0.5px,#f7f6f6 111.5px)"></div><div style="background:linear-gradient(90deg,#f7f6f6 0.5px,#f7f6f6 111.5px)"></div><div style="background:linear-gradient(90deg,#f7f6f6 0.5px,#f7f6f6 111.5px)"></div><div style="background:linear-gradient(90deg,#f7f6f6 0.5px,#f7f6f6 111.5px)"></div><div style="background:linear-gradient(90deg,#f7f6f6 0.5px,#f7f6f6 111.5px)"></div><div style="background:linear-gradient(90deg,#f7f6f6 0.5px,#f7f6f6 111.5px)"></div><div style="background:linear-gradient(90deg,#f7f6f6 0.5px,#f7f6f6 111.5px)"></div><div style="background:linear-gradient(90deg,#f7f6f6 0.5px,#f7f6f6 111.5px)"></div><div style="background:linear-gradient(90deg,#f7f6f6 0.5px,#f7f6f6 111.5px)"></div></div>
<div class="g" style="left:384px;top:191px;width:39px;height:117px"></div>
<div class="g" style="left:590px;top:191px;width:40px;height:117px"></div>
<div class="h" style="left:423px;top:191px;width:167px"><div style="background:linear-gradient(90deg,#e1edf3 0.5px,#e1edf3 166.5px)"></div><div style="background:linear-gradient(90deg,#deebf2 0.5px,#ddebf2 152.5px,#deebf2 166.5px)"></div><div style="background:linear-gradient(90deg,#dae9f2 0.5px,#dae9f2 166.5px)"></div><div style="background:linear-gradient(90deg,#d7e8f1 0.5px,#d4e6f1 54.5px,#d5e7f1 164.5px,#d7e8f1 166.5px)"></div><div style="background:linear-gradient(90deg,#d2e6f0 0.5px,#cfe4ef 48.5px,#cfe4ef 66.5px,#cce2ef 72.5px,#cce2ef 99.5px,#cfe4ef 105.5px,#d1e5f0 164.5px,#d2e6f0 166.5px)"></div><div style="background:linear-gradient(90deg,#cae1ee 0.5px,#c5dfec 24.5px,#c7e0ed 161.5px,#cae1ee 166.5px)"></div><div style="background:linear-gradient(90deg,#c2ddec 0.5px,#bddbea 14.5px,#bddbea 159.5px,#c2ddec 166.5px)"></div><div style="background:linear-gradient(90deg,#b8d8e9 0.5px,#b1d5e7 19.5px,#b3d6e8 159.5px,#b8d8e9 166.5px)"></div><div style="background:linear-gradient(90deg,#aed3e6 0.5px,#a7d0e4 15.5px,#a7d0e4 156.5px,#aed3e6 166.5px)"></div><div style="background:linear-gradient(90deg,#a2cde3 0.5px,#9bc9e0 21.5px,#9dcbe1 158.5px,#a2cde3 166.5px)"></div><div style="background:linear-gradient(90deg,#98c8e0 0.5px,#90c4dd 13.5px,#90c4dd 22.5px,#8dc2dc 28.5px,#8dc2dc 143.5px,#90c4dd 149.5px,#90c4dd 157.5px,#98c8e0 166.5px)"></div><div style="background:linear-gradient(90deg,#8ac0db 0.5px,#81bad8 12.5px,#81bad8 20.5px,#7eb8d7 26.5px,#7eb8d7 81.5px,#7bb6d6 84.5px,#7eb8d7 90.5px,#7eb8d7 145.5px,#81bad8 151.5px,#81bad8 157.5px,#8ac0db 166.5px)"></div><div style="background:linear-gradient(90deg,#7bb6d6 0.5px,#78b4d5 5.5px,#71b0d3 11.5px,#6eaed2 35.5px,#6eaed2 66.5px,#6bacd1 72.5px,#6bacd1 99.5px,#6eaed2 105.5px,#6eaed2 151.5px,#71b0d3 157.5px,#75b2d4 159.5px,#7bb6d6 165.5px,#7bb6d6 166.5px)"></div><div style="background:linear-gradient(90deg,#6eaed2 0.5px,#62a7ce 10.5px,#5fa5cd 22.5px,#5fa5cd 49.5px,#5ca3cb 55.5px,#5ca3cb 116.5px,#5fa5cd 122.5px,#5fa5cd 154.5px,#6eaed2 166.5px)"></div><div style="background:linear-gradient(90deg,#5fa5cd 0.5px,#529dc8 9.5px,#4f9bc7 20.5px,#4f9bc7 33.5px,#4c99c6 38.5px,#4c99c6 81.5px,#4997c5 84.5px,#4c99c6 90.5px,#4c99c6 132.5px,#4f9bc7 138.5px,#4f9bc7 155.5px,#5fa5cd 166.5px)"></div><div style="background:linear-gradient(90deg,#4f9bc7 0.5px,#4393c3 8.5px,#408fc1 42.5px,#4291c2 156.5px,#4997c5 163.5px,#4f9bc7 166.5px)"></div><div style="background:linear-gradient(90deg,#4291c2 0.5px,#3b88be 12.5px,#3885bc 113.5px,#3c8abe 159.5px,#4291c2 166.5px)"></div><div style="background:linear-gradient(90deg,#3b88be 0.5px,#3480b9 12.5px,#327cb7 108.5px,#3480b9 157.5px,#3b88be 166.5px)"></div><div style="background:linear-gradient(90deg,#3480b9 0.5px,#2e77b5 13.5px,#2b73b3 114.5px,#2e77b5 156.5px,#3480b9 166.5px)"></div><div style="background:linear-gradient(90deg,#2f79b5 0.5px,#276eb0 14.5px,#246aae 103.5px,#2870b1 157.5px,#2f79b5 166.5px)"></div><div style="background:linear-gradient(90deg,#2a71b2 0.5px,#2267ac 13.5px,#2065ab 51.5px,#1f63a8 57.5px,#1f63a8 114.5px,#2065ab 120.5px,#2267ac 156.5px,#2a71b2 166.5px)"></div><div style="background:linear-gradient(90deg,#266caf 0.5px,#1f63a8 8.5px,#1d5fa2 13.5px,#1d5fa2 22.5px,#1c5c9f 28.5px,#1c5c9f 54.5px,#1b5a9c 60.5px,#1b5a9c 111.5px,#1c5c9f 117.5px,#1c5c9f 143.5px,#1d5fa2 149.5px,#1d5fa2 155.5px,#246aae 164.5px,#266caf 166.5px)"></div><div style="background:linear-gradient(90deg,#2065ab 0.5px,#1c5c9f 7.5px,#1a5899 12.5px,#195696 24.5px,#195696 40.5px,#185493 46.5px,#185493 71.5px,#175290 77.5px,#175290 94.5px,#185493 100.5px,#185493 125.5px,#195696 131.5px,#195696 152.5px,#1c5c9f 159.5px,#2065ab 166.5px)"></div><div style="background:linear-gradient(90deg,#1e61a5 0.5px,#175290 10.5px,#15508d 40.5px,#144e8a 58.5px,#144e8a 72.5px,#134c87 78.5px,#134c87 93.5px,#144e8a 99.5px,#144e8a 123.5px,#15508d 129.5px,#15508d 151.5px,#185493 158.5px,#1e61a5 166.5px)"></div><div style="background:linear-gradient(90deg,#1b5a9c 0.5px,#185493 5.5px,#144e8a 10.5px,#134c87 22.5px,#134c87 31.5px,#124984 37.5px,#124984 61.5px,#114781 67.5px,#114781 104.5px,#124984 110.5px,#124984 134.5px,#134c87 140.5px,#134c87 154.5px,#185493 161.5px,#1b5a9c 166.5px)"></div><div style="background:linear-gradient(90deg,#1a5899 0.5px,#124984 10.5px,#114781 34.5px,#10457e 64.5px,#0f437b 94.5px,#10457e 118.5px,#10457e 127.5px,#114781 133.5px,#114781 152.5px,#144e8a 159.5px,#1a5899 166.5px)"></div><div style="background:linear-gradient(90deg,#195696 0.5px,#114781 10.5px,#10457e 28.5px,#10457e 35.5px,#0f437b 41.5px,#0f437b 130.5px,#10457e 136.5px,#10457e 153.5px,#134c87 159.5px,#195696 166.5px)"></div><div style="background:linear-gradient(90deg,#185493 0.5px,#144e8a 5.5px,#10457e 11.5px,#10457e 22.5px,#0f437b 28.5px,#0e4179 80.5px,#0d3f76 85.5px,#0e4179 91.5px,#0f437b 143.5px,#10457e 149.5px,#10457e 155.5px,#144e8a 161.5px,#185493 166.5px)"></div><div style="background:linear-gradient(90deg,#195696 0.5px,#124984 8.5px,#10457e 14.5px,#10457e 31.5px,#0f437b 37.5px,#0f437b 134.5px,#10457e 140.5px,#10457e 154.5px,#15508d 162.5px,#195696 166.5px)"></div><div style="background:linear-gradient(90deg,#1a5899 0.5px,#124984 10.5px,#114781 44.5px,#10457e 50.5px,#10457e 74.5px,#0f437b 80.5px,#0f437b 91.5px,#10457e 97.5px,#10457e 121.5px,#114781 127.5px,#114781 150.5px,#134c87 158.5px,#195696 164.5px,#1a5899 166.5px)"></div><div style="background:linear-gradient(90deg,#1c5c9f 0.5px,#195696 5.5px,#15508d 10.5px,#144e8a 22.5px,#144e8a 31.5px,#134c87 37.5px,#134c87 62.5px,#124984 68.5px,#124984 103.5px,#134c87 109.5px,#134c87 134.5px,#144e8a 140.5px,#144e8a 154.5px,#195696 161.5px,#1c5c9f 166.5px)"></div><div style="background:linear-gradient(90deg,#2065ab 0.5px,#195696 11.5px,#195696 20.5px,#185493 26.5px,#185493 51.5px,#175290 57.5px,#175290 114.5px,#185493 120.5px,#185493 145.5px,#195696 151.5px,#1a5899 157.5px,#2065ab 166.5px)"></div><div style="background:linear-gradient(90deg,#266caf 0.5px,#1f63a8 9.5px,#1d5fa2 15.5px,#1d5fa2 40.5px,#1c5c9f 46.5px,#1c5c9f 73.5px,#1b5a9c 79.5px,#1b5a9c 92.5px,#1c5c9f 98.5px,#1c5c9f 125.5px,#1d5fa2 131.5px,#1d5fa2 153.5px,#246aae 164.5px,#266caf 166.5px)"></div><div style="background:linear-gradient(90deg,#2c75b4 0.5px,#246aae 13.5px,#2369ad 109.5px,#266caf 158.5px,#2c75b4 166.5px)"></div><div style="background:linear-gradient(90deg,#3480b9 0.5px,#2c75b4 15.5px,#2b73b3 97.5px,#2e77b5 157.5px,#3480b9 166.5px)"></div><div style="background:linear-gradient(90deg,#3c8abe 0.5px,#3681ba 15.5px,#3681ba 155.5px,#3c8abe 166.5px)"></div><div style="background:linear-gradient(90deg,#4997c5 0.5px,#408fc1 12.5px,#3f8ec0 136.5px,#4291c2 159.5px,#4997c5 166.5px)"></div><div style="background:linear-gradient(90deg,#62a7ce 0.5px,#569fc9 11.5px,#569fc9 34.5px,#529dc8 36.5px,#529dc8 131.5px,#569fc9 133.5px,#569fc9 157.5px,#62a7ce 166.5px)"></div><div style="background:linear-gradient(90deg,#78b4d5 0.5px,#75b2d4 5.5px,#71b0d3 7.5px,#6eaed2 25.5px,#6eaed2 71.5px,#6bacd1 77.5px,#6bacd1 94.5px,#6eaed2 100.5px,#6eaed2 156.5px,#71b0d3 160.5px,#75b2d4 162.5px,#78b4d5 166.5px)"></div><div style="background:linear-gradient(90deg,#90c4dd 0.5px,#8dc2dc 6.5px,#8ac0db 12.5px,#8ac0db 74.5px,#87beda 80.5px,#87beda 91.5px,#8ac0db 97.5px,#8ac0db 159.5px,#90c4dd 165.5px,#90c4dd 166.5px)"></div><div style="background:linear-gradient(90deg,#a5cee3 0.5px,#a2cde3 30.5px,#a2cde3 161.5px,#a5cee3 166.5px)"></div><div style="background:linear-gradient(90deg,#bbdaea 0.5px,#b8d8e9 6.5px,#b8d8e9 17.5px,#bbdaea 23.5px,#bbdaea 35.5px,#b8d8e9 41.5px,#b8d8e9 130.5px,#bbdaea 136.5px,#bbdaea 148.5px,#b8d8e9 154.5px,#b8d8e9 165.5px,#bbdaea 166.5px)"></div><div style="background:linear-gradient(90deg,#cfe4ef 0.5px,#cfe4ef 166.5px)"></div><div style="background:linear-gradient(90deg,#dbeaf2 0.5px,#e0ecf3 34.5px,#deebf2 154.5px,#dbeaf2 166.5px)"></div><div style="background:linear-gradient(90deg,#e7f0f4 0.5px,#edf2f5 23.5px,#edf2f5 152.5px,#e7f0f4 166.5px)"></div><div style="background:linear-gradient(90deg,#f5f6f7 0.5px,#f7f5f4 11.5px,#f8f3f0 21.5px,#f8f3f0 151.5px,#f5f6f7 163.5px,#f5f6f7 166.5px)"></div><div style="background:linear-gradient(90deg,#f9f0eb 0.5px,#fae8de 17.5px,#fae8de 150.5px,#f9f0eb 166.5px)"></div><div style="background:linear-gradient(90deg,#fae7dc 0.5px,#fcdecd 16.5px,#fddcc9 104.5px,#fcdecd 152.5px,#fae7dc 166.5px)"></div><div style="background:linear-gradient(90deg,#fcdecd 0.5px,#fcd7c2 8.5px,#fbceb7 14.5px,#facab1 29.5px,#facab1 143.5px,#fbccb4 149.5px,#fbd0b9 154.5px,#fdddcb 163.5px,#fcdecd 166.5px)"></div><div style="background:linear-gradient(90deg,#fbd0b9 0.5px,#fbccb4 4.5px,#f7b99c 15.5px,#f7b799 33.5px,#f7b596 57.5px,#f7b596 129.5px,#f7b799 135.5px,#f7b799 148.5px,#f8bda1 154.5px,#fbd0b9 165.5px,#fbd0b9 166.5px)"></div><div style="background:linear-gradient(90deg,#f9c2a7 0.5px,#f4a683 15.5px,#f3a481 30.5px,#f2a17f 35.5px,#f2a17f 53.5px,#f19e7d 58.5px,#f19e7d 112.5px,#f2a17f 118.5px,#f2a17f 135.5px,#f3a481 141.5px,#f4a683 151.5px,#f9c2a7 166.5px)"></div><div style="background:linear-gradient(90deg,#f6b394 0.5px,#f5aa89 5.5px,#f3a481 7.5px,#eb9172 14.5px,#e98b6e 22.5px,#e8896c 55.5px,#e6866a 61.5px,#e6866a 75.5px,#e58368 81.5px,#e58368 90.5px,#e6866a 96.5px,#e6866a 110.5px,#e8896c 116.5px,#e98b6e 147.5px,#ee9677 154.5px,#f4a683 160.5px,#f6b191 164.5px,#f6b394 166.5px)"></div><div style="background:linear-gradient(90deg,#f3a481 0.5px,#ef9979 5.5px,#e48066 12.5px,#e17860 17.5px,#df765e 32.5px,#de735c 38.5px,#de735c 50.5px,#dd7059 56.5px,#dd7059 115.5px,#de735c 121.5px,#de735c 133.5px,#df765e 139.5px,#e17860 150.5px,#e6866a 156.5px,#f3a481 165.5px,#f3a481 166.5px)"></div><div style="background:linear-gradient(90deg,#ee9677 0.5px,#df765e 10.5px,#da6853 14.5px,#d7634f 20.5px,#d6604d 41.5px,#d55d4c 47.5px,#d55d4c 58.5px,#d35a4a 64.5px,#d35a4a 107.5px,#d55d4c 113.5px,#d55d4c 124.5px,#d6604d 130.5px,#d6604d 140.5px,#d7634f 146.5px,#da6853 152.5px,#ee9677 166.5px)"></div><div style="background:linear-gradient(90deg,#e8896c 0.5px,#dd7059 7.5px,#d35a4a 13.5px,#cf5246 18.5px,#ce4f45 29.5px,#cc4c44 49.5px,#cb4942 55.5px,#c94741 80.5px,#c84440 85.5px,#c94741 91.5px,#cb4942 116.5px,#cc4c44 122.5px,#cc4c44 132.5px,#ce4f45 138.5px,#ce4f45 146.5px,#d35a4a 153.5px,#de735c 160.5px,#e8896c 166.5px)"></div><div style="background:linear-gradient(90deg,#e27b62 0.5px,#da6853 6.5px,#ce4f45 12.5px,#c6413e 18.5px,#c6413e 27.5px,#c53e3d 33.5px,#c53e3d 42.5px,#c43b3c 48.5px,#c43b3c 56.5px,#c2383a 62.5px,#c2383a 109.5px,#c43b3c 115.5px,#c43b3c 123.5px,#c53e3d 129.5px,#c53e3d 138.5px,#c6413e 144.5px,#c84440 150.5px,#cf5246 155.5px,#df765e 164.5px,#e27b62 166.5px)"></div><div style="background:linear-gradient(90deg,#de735c 0.5px,#d7634f 5.5px,#c84440 12.5px,#c2383a 17.5px,#bf3338 33.5px,#be3036 52.5px,#bd2d35 58.5px,#bd2d35 66.5px,#bb2a34 72.5px,#bb2a34 99.5px,#bd2d35 105.5px,#bd2d35 113.5px,#be3036 119.5px,#be3036 127.5px,#bf3338 133.5px,#bf3338 141.5px,#c13639 147.5px,#c43b3c 151.5px,#ce4f45 157.5px,#dc6e57 164.5px,#de735c 166.5px)"></div><div style="background:linear-gradient(90deg,#dc6e57 0.5px,#cf5246 7.5px,#c43b3c 12.5px,#bd2d35 18.5px,#bd2d35 25.5px,#bb2a34 31.5px,#ba2832 52.5px,#b82531 58.5px,#b82531 66.5px,#b72230 72.5px,#b72230 80.5px,#b61f2e 85.5px,#b72230 91.5px,#b72230 99.5px,#b82531 105.5px,#b82531 113.5px,#ba2832 119.5px,#bb2a34 140.5px,#bd2d35 146.5px,#bf3338 151.5px,#c53e3d 155.5px,#d25849 160.5px,#dc6e57 166.5px)"></div><div style="background:linear-gradient(90deg,#da6853 0.5px,#d25849 5.5px,#c84440 9.5px,#bd2d35 15.5px,#ba2832 25.5px,#b82531 44.5px,#b72230 50.5px,#b72230 57.5px,#b61f2e 63.5px,#b61f2e 71.5px,#b41c2d 77.5px,#b41c2d 94.5px,#b61f2e 100.5px,#b61f2e 108.5px,#b72230 114.5px,#b72230 121.5px,#b82531 127.5px,#b82531 135.5px,#ba2832 141.5px,#bb2a34 149.5px,#bf3338 153.5px,#cf5246 160.5px,#d7634f 164.5px,#da6853 166.5px)"></div><div style="background:linear-gradient(90deg,#da6853 0.5px,#d25849 5.5px,#c13639 12.5px,#bb2a34 17.5px,#ba2832 27.5px,#b82531 33.5px,#b82531 41.5px,#b72230 47.5px,#b72230 54.5px,#b61f2e 60.5px,#b61f2e 67.5px,#b41c2d 73.5px,#b41c2d 98.5px,#b61f2e 104.5px,#b61f2e 111.5px,#b72230 117.5px,#b72230 124.5px,#b82531 130.5px,#b82531 138.5px,#ba2832 144.5px,#bd2d35 151.5px,#c84440 157.5px,#d7634f 164.5px,#da6853 166.5px)"></div><div style="background:linear-gradient(90deg,#db6b55 0.5px,#ce4f45 7.5px,#c13639 13.5px,#bd2d35 17.5px,#ba2832 37.5px,#b82531 55.5px,#b72230 61.5px,#b72230 69.5px,#b61f2e 75.5px,#b61f2e 96.5px,#b72230 102.5px,#b72230 110.5px,#b82531 116.5px,#b82531 124.5px,#ba2832 130.5px,#bb2a34 147.5px,#bf3338 152.5px,#c6413e 156.5px,#d86551 164.5px,#db6b55 166.5px)"></div><div style="background:linear-gradient(90deg,#dd7059 0.5px,#d05548 7.5px,#c2383a 14.5px,#be3036 22.5px,#be3036 32.5px,#bd2d35 38.5px,#bd2d35 46.5px,#bb2a34 52.5px,#ba2832 73.5px,#b82531 79.5px,#b82531 92.5px,#ba2832 98.5px,#bb2a34 119.5px,#bd2d35 125.5px,#bd2d35 133.5px,#be3036 139.5px,#be3036 146.5px,#c43b3c 153.5px,#d86551 163.5px,#dd7059 166.5px)"></div><div style="background:linear-gradient(90deg,#df765e 0.5px,#d86551 5.5px,#c6413e 14.5px,#c43b3c 19.5px,#c13639 52.5px,#bf3338 58.5px,#bf3338 66.5px,#be3036 72.5px,#be3036 99.5px,#bf3338 105.5px,#bf3338 113.5px,#c13639 119.5px,#c2383a 142.5px,#c43b3c 148.5px,#c84440 153.5px,#da6853 162.5px,#df765e 166.5px)"></div><div style="background:linear-gradient(90deg,#e37e64 0.5px,#da6853 7.5px,#d25849 11.5px,#cb4942 17.5px,#c94741 28.5px,#c84440 34.5px,#c84440 43.5px,#c6413e 49.5px,#c6413e 59.5px,#c53e3d 65.5px,#c53e3d 74.5px,#c43b3c 80.5px,#c43b3c 91.5px,#c53e3d 97.5px,#c53e3d 106.5px,#c6413e 112.5px,#c6413e 122.5px,#c84440 128.5px,#c84440 137.5px,#c94741 143.5px,#cb4942 150.5px,#d35a4a 156.5px,#df765e 163.5px,#e37e64 166.5px)"></div><div style="background:linear-gradient(90deg,#e8896c 0.5px,#dd7059 8.5px,#d55d4c 13.5px,#d05548 21.5px,#d05548 31.5px,#cf5246 36.5px,#cf5246 47.5px,#ce4f45 52.5px,#ce4f45 64.5px,#cc4c44 69.5px,#cc4c44 81.5px,#cb4942 84.5px,#cc4c44 90.5px,#cc4c44 101.5px,#ce4f45 107.5px,#ce4f45 118.5px,#cf5246 124.5px,#cf5246 134.5px,#d05548 140.5px,#d05548 147.5px,#d55d4c 153.5px,#e48066 163.5px,#e8896c 166.5px)"></div><div style="background:linear-gradient(90deg,#ee9677 0.5px,#e8896c 5.5px,#dd7059 12.5px,#da6853 16.5px,#d7634f 35.5px,#d7634f 46.5px,#d6604d 52.5px,#d6604d 63.5px,#d55d4c 69.5px,#d55d4c 102.5px,#d6604d 108.5px,#d6604d 119.5px,#d7634f 125.5px,#d86551 148.5px,#dd7059 154.5px,#eb9172 164.5px,#ee9677 166.5px)"></div><div style="background:linear-gradient(90deg,#f2a17f 0.5px,#ec9374 6.5px,#e27b62 14.5px,#df765e 24.5px,#df765e 33.5px,#de735c 39.5px,#de735c 52.5px,#dd7059 58.5px,#dd7059 113.5px,#de735c 119.5px,#de735c 132.5px,#df765e 138.5px,#e17860 150.5px,#ea8e70 159.5px,#f2a17f 165.5px,#f2a17f 166.5px)"></div><div style="background:linear-gradient(90deg,#f5ac8b 0.5px,#f09c7b 8.5px,#e98b6e 15.5px,#e6866a 33.5px,#e6866a 45.5px,#e58368 51.5px,#e58368 66.5px,#e48066 72.5px,#e48066 99.5px,#e58368 105.5px,#e58368 120.5px,#e6866a 126.5px,#e6866a 142.5px,#e8896c 148.5px,#ea8e70 153.5px,#f5ac8b 165.5px,#f5ac8b 166.5px)"></div><div style="background:linear-gradient(90deg,#f7b799 0.5px,#f5aa89 8.5px,#f09c7b 15.5px,#ef9979 33.5px,#ee9677 61.5px,#ec9374 67.5px,#ec9374 104.5px,#ee9677 110.5px,#ee9677 128.5px,#ef9979 134.5px,#ef9979 148.5px,#f2a17f 154.5px,#f7b799 165.5px,#f7b799 166.5px)"></div><div style="background:linear-gradient(90deg,#f9c2a7 0.5px,#f7b99c 6.5px,#f5ac8b 14.5px,#f5aa89 25.5px,#f5a886 31.5px,#f5a886 52.5px,#f4a683 58.5px,#f4a683 113.5px,#f5a886 119.5px,#f5a886 140.5px,#f5aa89 146.5px,#f5ac8b 152.5px,#f8bda1 162.5px,#f9c2a7 166.5px)"></div><div style="background:linear-gradient(90deg,#fbccb4 0.5px,#f7b99c 14.5px,#f7b799 32.5px,#f7b596 44.5px,#f7b596 132.5px,#f7b799 138.5px,#f7b799 149.5px,#f8bda1 155.5px,#fbccb4 166.5px)"></div><div style="background:linear-gradient(90deg,#fcd7c2 0.5px,#f9c6ac 14.5px,#f9c4a9 26.5px,#f9c2a7 68.5px,#f8bfa4 73.5px,#f8bfa4 97.5px,#f9c2a7 103.5px,#f9c4a9 150.5px,#fcd7c2 166.5px)"></div><div style="background:linear-gradient(90deg,#fdddcb 0.5px,#fcd7c2 8.5px,#fbd0b9 15.5px,#fbceb7 54.5px,#fbccb4 60.5px,#fbccb4 111.5px,#fbceb7 117.5px,#fbd0b9 152.5px,#fddcc9 164.5px,#fdddcb 166.5px)"></div><div style="background:linear-gradient(90deg,#fce2d2 0.5px,#fddbc7 16.5px,#fdd9c4 28.5px,#fdd9c4 148.5px,#fce2d2 166.5px)"></div><div style="background:linear-gradient(90deg,#fbe5d8 0.5px,#fcdfcf 18.5px,#fcdfcf 152.5px,#fbe5d8 166.5px)"></div><div style="background:linear-gradient(90deg,#fae8de 0.5px,#fbe4d6 18.5px,#fbe4d6 153.5px,#fae8de 166.5px)"></div><div style="background:linear-gradient(90deg,#faeae1 0.5px,#fae7dc 28.5px,#fae7dc 152.5px,#faeae1 166.5px)"></div><div style="background:linear-gradient(90deg,#f9eee7 0.5px,#faeae1 22.5px,#faeae1 153.5px,#f9eee7 166.5px)"></div><div style="background:linear-gradient(90deg,#f9f0eb 0.5px,#f9ede5 27.5px,#f9eee7 158.5px,#f9f0eb 166.5px)"></div><div style="background:linear-gradient(90deg,#f8f1ed 0.5px,#f9efe9 42.5px,#f9f0eb 160.5px,#f8f1ed 166.5px)"></div><div style="background:linear-gradient(90deg,#f8f2ef 0.5px,#f8f2ef 166.5px)"></div><div style="background:linear-gradient(90deg,#f8f3f0 0.5px,#f8f3f0 166.5px)"></div><div style="background:linear-gradient(90deg,#f8f4f2 0.5px,#f8f4f2 166.5px)"></div><div style="background:linear-gradient(90deg,#f7f5f4 0.5px,#f7f5f4 166.5px)"></div><div style="background:linear-gradient(90deg,#f7f5f4 0.5px,#f7f5f4 166.5px)"></div><div style="background:linear-gradient(90deg,#f7f6f6 0.5px,#f7f6f6 166.5px)"></div><div style="background:linear-gradient(90deg,#f7f6f6 0.5px,#f7f6f6 166.5px)"></div><div style="background:linear-gradient(90deg,#f7f6f6 0.5px,#f7f6f6 166.5px)"></div><div style="background:linear-gradient(90deg,#f7f6f6 0.5px,#f7f6f6 166.5px)"></div><div style="background:linear-gradient(90deg,#f7f6f6 0.5px,#f7f6f6 166.5px)"></div><div style="background:linear-gradient(90deg,#f7f6f6 0.5px,#f7f6f6 166.5px)"></div><div style="background:linear-gradient(90deg,#f7f6f6 0.5px,#f7f6f6 166.5px)"></div><div style="background:linear-gradient(90deg,#f7f6f6 0.5px,#f7f6f6 166.5px)"></div><div style="background:linear-gradient(90deg,#f7f6f6 0.5px,#f7f6f6 166.5px)"></div><div style="background:linear-gradient(90deg,#f7f6f6 0.5px,#f7f6f6 166.5px)"></div><div style="background:linear-gradient(90deg,#f7f6f6 0.5px,#f7f6f6 166.5px)"></div><div style="background:linear-gradient(90deg,#f7f6f6 0.5px,#f7f6f6 166.5px)"></div><div style="background:linear-gradient(90deg,#f7f6f6 0.5px,#f7f6f6 166.5px)"></div><div style="background:linear-gradient(90deg,#f7f6f6 0.5px,#f7f6f6 166.5px)"></div><div style="background:linear-gradient(90deg,#f7f6f6 0.5px,#f7f6f6 166.5px)"></div><div style="background:linear-gradient(90deg,#f7f6f6 0.5px,#f7f6f6 166.5px)"></div><div style="background:linear-gradient(90deg,#f7f6f6 0.5px,#f7f6f6 166.5px)"></div><div style="background:linear-gradient(90deg,#f7f6f6 0.5px,#f7f6f6 166.5px)"></div><div style="background:linear-gradient(90deg,#f7f6f6 0.5px,#f7f6f6 166.5px)"></div><div style="background:linear-gradient(90deg,#f7f6f6 0.5px,#f7f6f6 166.5px)"></div><div style="background:linear-gradient(90deg,#f7f6f6 0.5px,#f7f6f6 166.5px)"></div><div style="background:linear-gradient(90deg,#f7f6f6 0.5px,#f7f6f6 166.5px)"></div><div style="background:linear-gradient(90deg,#f7f6f6 0.5px,#f7f6f6 166.5px)"></div><div style="background:linear-gradient(90deg,#f7f6f6 0.5px,#f7f6f6 166.5px)"></div><div style="background:linear-gradient(90deg,#f7f6f6 0.5px,#f7f6f6 166.5px)"></div><div style="background:linear-gradient(90deg,#f7f6f6 0.5px,#f7f6f6 166.5px)"></div><div style="background:linear-gradient(90deg,#f7f6f6 0.5px,#f7f6f6 166.5px)"></div><div style="background:linear-gradient(90deg,#f7f6f6 0.5px,#f7f6f6 166.5px)"></div><div style="background:linear-gradient(90deg,#f7f6f6 0.5px,#f7f6f6 166.5px)"></div><div style="background:linear-gradient(90deg,#f7f6f6 0.5px,#f7f6f6 166.5px)"></div><div style="background:linear-gradient(90deg,#f7f6f6 0.5px,#f7f6f6 166.5px)"></div><div style="background:linear-gradient(90deg,#f7f6f6 0.5px,#f7f6f6 166.5px)"></div></div>
<svg width="685" height="330" viewBox="0 0 685 330">
<defs><linearGradient id="cb" x1="0" y1="0" x2="0" y2="1">
<stop offset="0" stop-color="#053061"/>
<stop offset="0.1" stop-color="#2166ac"/>
<stop offset="0.2" stop-color="#4393c3"/>
<stop offset="0.3" stop-color="#92c5de"/>
<stop offset="0.4" stop-color="#d1e5f0"/>
<stop offset="0.5" stop-color="#f7f7f7"/>
<stop offset="0.6" stop-color="#fddbc7"/>
<stop offset="0.7" stop-color="#f4a582"/>
<stop offset="0.8" stop-color="#d6604d"/>
<stop offset="0.9" stop-color="#b2182b"/>
<stop offset="1" stop-color="#67001f"/>
</linearGradient></defs>
<line x1="128" y1="28.75" x2="128" y2="144.4" stroke="#000" stroke-width="0.8" stroke-dasharray="2.75 1.27"/>
<line x1="239.5" y1="28.75" x2="239.5" y2="144.4" stroke="#000" stroke-width="0.8" stroke-dasharray="2.75 1.27"/>
<line x1="450.7" y1="28.75" x2="450.7" y2="144.4" stroke="#000" stroke-width="0.8" stroke-dasharray="2.75 1.27"/>
<line x1="562.6" y1="28.75" x2="562.6" y2="144.4" stroke="#000" stroke-width="0.8" stroke-dasharray="2.75 1.27"/>
<line x1="99.5" y1="191.75" x2="99.5" y2="307.4" stroke="#000" stroke-width="0.8" stroke-dasharray="2.75 1.27"/>
<line x1="267.5" y1="191.75" x2="267.5" y2="307.4" stroke="#000" stroke-width="0.8" stroke-dasharray="2.75 1.27"/>
<line x1="422.5" y1="191.75" x2="422.5" y2="307.4" stroke="#000" stroke-width="0.8" stroke-dasharray="2.75 1.27"/>
<line x1="590.6" y1="191.75" x2="590.6" y2="307.4" stroke="#000" stroke-width="0.8" stroke-dasharray="2.75 1.27"/>
<rect x="61" y="28" width="245.7" height="116.4" fill="none" stroke="#000" stroke-width="0.85"/>
<rect x="383.9" y="28" width="245.7" height="116.4" fill="none" stroke="#000" stroke-width="0.85"/>
<rect x="61" y="191" width="245.7" height="116.4" fill="none" stroke="#000" stroke-width="0.85"/>
<rect x="383.9" y="191" width="245.7" height="116.4" fill="none" stroke="#000" stroke-width="0.85"/>
<rect x="314.5" y="28" width="8" height="116.4" fill="url(#cb)" stroke="#333" stroke-width="0.85"/>
<rect x="314.95" y="143.1" width="7.1" height="0.9" fill="#d4909f"/>
<line x1="322.5" y1="29.2" x2="325.3" y2="29.2" stroke="#000" stroke-width="0.85"/>
<line x1="322.5" y1="86.2" x2="325.3" y2="86.2" stroke="#000" stroke-width="0.85"/>
<line x1="322.5" y1="143.2" x2="325.3" y2="143.2" stroke="#000" stroke-width="0.85"/>
<rect x="637.5" y="28" width="8" height="116.4" fill="url(#cb)" stroke="#333" stroke-width="0.85"/>
<rect x="637.95" y="143.1" width="7.1" height="0.9" fill="#d4909f"/>
<line x1="645.5" y1="37.5" x2="648.3" y2="37.5" stroke="#000" stroke-width="0.85"/>
<line x1="645.5" y1="86.2" x2="648.3" y2="86.2" stroke="#000" stroke-width="0.85"/>
<line x1="645.5" y1="134.9" x2="648.3" y2="134.9" stroke="#000" stroke-width="0.85"/>
<rect x="314.5" y="191" width="8" height="116.4" fill="url(#cb)" stroke="#333" stroke-width="0.85"/>
<line x1="322.5" y1="204.98" x2="325.3" y2="204.98" stroke="#000" stroke-width="0.85"/>
<line x1="322.5" y1="249.2" x2="325.3" y2="249.2" stroke="#000" stroke-width="0.85"/>
<line x1="322.5" y1="293.42" x2="325.3" y2="293.42" stroke="#000" stroke-width="0.85"/>
<rect x="637.5" y="191" width="8" height="116.4" fill="url(#cb)" stroke="#333" stroke-width="0.85"/>
<line x1="645.5" y1="219.17" x2="648.3" y2="219.17" stroke="#000" stroke-width="0.85"/>
<line x1="645.5" y1="249.2" x2="648.3" y2="249.2" stroke="#000" stroke-width="0.85"/>
<line x1="645.5" y1="279.23" x2="648.3" y2="279.23" stroke="#000" stroke-width="0.85"/>
<line x1="57.7" y1="28.3" x2="61" y2="28.3" stroke="#000" stroke-width="0.85"/>
<line x1="57.7" y1="57.33" x2="61" y2="57.33" stroke="#000" stroke-width="0.85"/>
<line x1="57.7" y1="86.35" x2="61" y2="86.35" stroke="#000" stroke-width="0.85"/>
<line x1="57.7" y1="115.38" x2="61" y2="115.38" stroke="#000" stroke-width="0.85"/>
<line x1="57.7" y1="144.4" x2="61" y2="144.4" stroke="#000" stroke-width="0.85"/>
<line x1="57.7" y1="191.3" x2="61" y2="191.3" stroke="#000" stroke-width="0.85"/>
<line x1="57.7" y1="220.33" x2="61" y2="220.33" stroke="#000" stroke-width="0.85"/>
<line x1="57.7" y1="249.35" x2="61" y2="249.35" stroke="#000" stroke-width="0.85"/>
<line x1="57.7" y1="278.38" x2="61" y2="278.38" stroke="#000" stroke-width="0.85"/>
<line x1="57.7" y1="307.4" x2="61" y2="307.4" stroke="#000" stroke-width="0.85"/>
<line x1="80.35" y1="307.4" x2="80.35" y2="310.7" stroke="#000" stroke-width="0.85"/>
<line x1="183.85" y1="307.4" x2="183.85" y2="310.7" stroke="#000" stroke-width="0.85"/>
<line x1="287.35" y1="307.4" x2="287.35" y2="310.7" stroke="#000" stroke-width="0.85"/>
<line x1="403.25" y1="307.4" x2="403.25" y2="310.7" stroke="#000" stroke-width="0.85"/>
<line x1="506.75" y1="307.4" x2="506.75" y2="310.7" stroke="#000" stroke-width="0.85"/>
<line x1="610.25" y1="307.4" x2="610.25" y2="310.7" stroke="#000" stroke-width="0.85"/>
<text transform="translate(26.99 36.83) scale(0.96 1)" font-size="24.4">0.0</text>
<text transform="translate(27.05 65.86) scale(0.96 1)" font-size="24.4">0.5</text>
<text transform="translate(26.99 94.88) scale(0.96 1)" font-size="24.4">1.0</text>
<text transform="translate(27.05 123.84) scale(0.96 1)" font-size="24.4">1.5</text>
<text transform="translate(26.99 152.93) scale(0.96 1)" font-size="24.4">2.0</text>
<text transform="translate(26.99 199.83) scale(0.96 1)" font-size="24.4">0.0</text>
<text transform="translate(27.05 228.85) scale(0.96 1)" font-size="24.4">0.5</text>
<text transform="translate(26.99 257.88) scale(0.96 1)" font-size="24.4">1.0</text>
<text transform="translate(27.05 286.84) scale(0.96 1)" font-size="24.4">1.5</text>
<text transform="translate(26.99 315.93) scale(0.96 1)" font-size="24.4">2.0</text>
<text transform="translate(334.06 37.63) scale(0.96 1)" font-size="24.4">5.0</text>
<text transform="translate(334.52 94.63) scale(0.96 1)" font-size="24.4">0.0</text>
<text transform="translate(334.06 151.63) scale(0.96 1)" font-size="24.4">5.0</text>
<rect x="326.9" y="145.73" width="6.7" height="1.0"/>
<text transform="translate(657.35 45.93) scale(0.96 1)" font-size="24.4">2.0</text>
<text transform="translate(657.52 94.63) scale(0.96 1)" font-size="24.4">0.0</text>
<text transform="translate(657.35 143.33) scale(0.96 1)" font-size="24.4">2.0</text>
<rect x="649.9" y="137.43" width="6.7" height="1.0"/>
<text transform="translate(334.35 213.37) scale(0.96 1)" font-size="24.4">2.5</text>
<text transform="translate(334.52 257.63) scale(0.96 1)" font-size="24.4">0.0</text>
<text transform="translate(334.35 301.82) scale(0.96 1)" font-size="24.4">2.5</text>
<rect x="326.9" y="295.95" width="6.7" height="1.0"/>
<text transform="translate(657.06 227.6) scale(0.96 1)" font-size="24.4">5.0</text>
<text transform="translate(657.52 257.63) scale(0.96 1)" font-size="24.4">0.0</text>
<text transform="translate(657.06 287.66) scale(0.96 1)" font-size="24.4">5.0</text>
<rect x="649.9" y="281.76" width="6.7" height="1.0"/>
<text transform="translate(313.48 21.99) scale(0.93 1)" font-size="24.8">10</text>
<path d="M299.05 9.75L310.35 21.05M299.05 21.05L310.35 9.75" stroke="#000" stroke-width="1.05" fill="none"/>
<rect x="338.1" y="8.1" width="10.3" height="1.0"/>
<text x="349.57" y="12.51" font-size="16.6" style="stroke-width:0.12px">4</text>
<text transform="translate(636.48 21.99) scale(0.93 1)" font-size="24.8">10</text>
<path d="M622.05 9.75L633.35 21.05M622.05 21.05L633.35 9.75" stroke="#000" stroke-width="1.05" fill="none"/>
<rect x="661.1" y="8.1" width="10.3" height="1.0"/>
<text x="672.11" y="12.6" font-size="16.6" style="stroke-width:0.12px">3</text>
<text transform="translate(318.28 184.99) scale(0.93 1)" font-size="24.8">10</text>
<path d="M303.85 172.75L315.15 184.05M303.85 184.05L315.15 172.75" stroke="#000" stroke-width="1.05" fill="none"/>
<rect x="342.9" y="171.1" width="10.3" height="1.0"/>
<text x="353.75" y="175.47" font-size="16.6" style="stroke-width:0.12px">5</text>
<text transform="translate(641.28 184.99) scale(0.93 1)" font-size="24.8">10</text>
<path d="M626.85 172.75L638.15 184.05M626.85 184.05L638.15 172.75" stroke="#000" stroke-width="1.05" fill="none"/>
<rect x="665.9" y="171.1" width="10.3" height="1.0"/>
<text x="676.75" y="175.47" font-size="16.6" style="stroke-width:0.12px">5</text>
<text transform="translate(172.64 20.7) scale(1.18 1)" font-size="24.3" font-style="italic">S</text>
<text transform="translate(186.97 11.62) scale(1.05 1)" font-size="16" font-style="italic" style="stroke-width:0.12px">b</text>
<text transform="translate(496.38 20.11) scale(1.12 1)" font-size="25.2" font-style="italic">J</text>
<text transform="translate(510.88 11.63) scale(1.12 1)" font-size="15.6" font-style="italic" style="stroke-width:0.12px">s</text>
<text transform="translate(73.18 328.76) scale(1.04 1)" font-size="24.4">S</text>
<text transform="translate(175.84 328.58) scale(0.9 1)" font-size="24.4">N</text>
<text transform="translate(280.18 328.76) scale(1.04 1)" font-size="24.4">S</text>
<text transform="translate(396.08 328.76) scale(1.04 1)" font-size="24.4">S</text>
<text transform="translate(498.74 328.58) scale(0.9 1)" font-size="24.4">N</text>
<text transform="translate(603.08 328.76) scale(1.04 1)" font-size="24.4">S</text>
<g transform="translate(18.7 119.6) rotate(-90)"><text x="-0.5" y="0" font-size="24" font-style="italic">&#1013;</text><text transform="translate(9.0 2.9) scale(1.12 1)" font-size="16.7" font-style="italic" style="stroke-width:0.15px">ss</text><text transform="translate(33.28 0) scale(0.65 1)" font-size="28">(</text><text transform="translate(40.28 0) scale(0.9 1)" font-size="26">%</text><text transform="translate(60.62 0) scale(0.65 1)" font-size="28">)</text></g>
<g transform="translate(18.7 282.6) rotate(-90)"><text x="-0.5" y="0" font-size="24" font-style="italic">&#1013;</text><text transform="translate(9.0 2.9) scale(1.12 1)" font-size="16.7" font-style="italic" style="stroke-width:0.15px">ss</text><text transform="translate(33.28 0) scale(0.65 1)" font-size="28">(</text><text transform="translate(40.28 0) scale(0.9 1)" font-size="26">%</text><text transform="translate(60.62 0) scale(0.65 1)" font-size="28">)</text></g>
</svg>
</body></html>
